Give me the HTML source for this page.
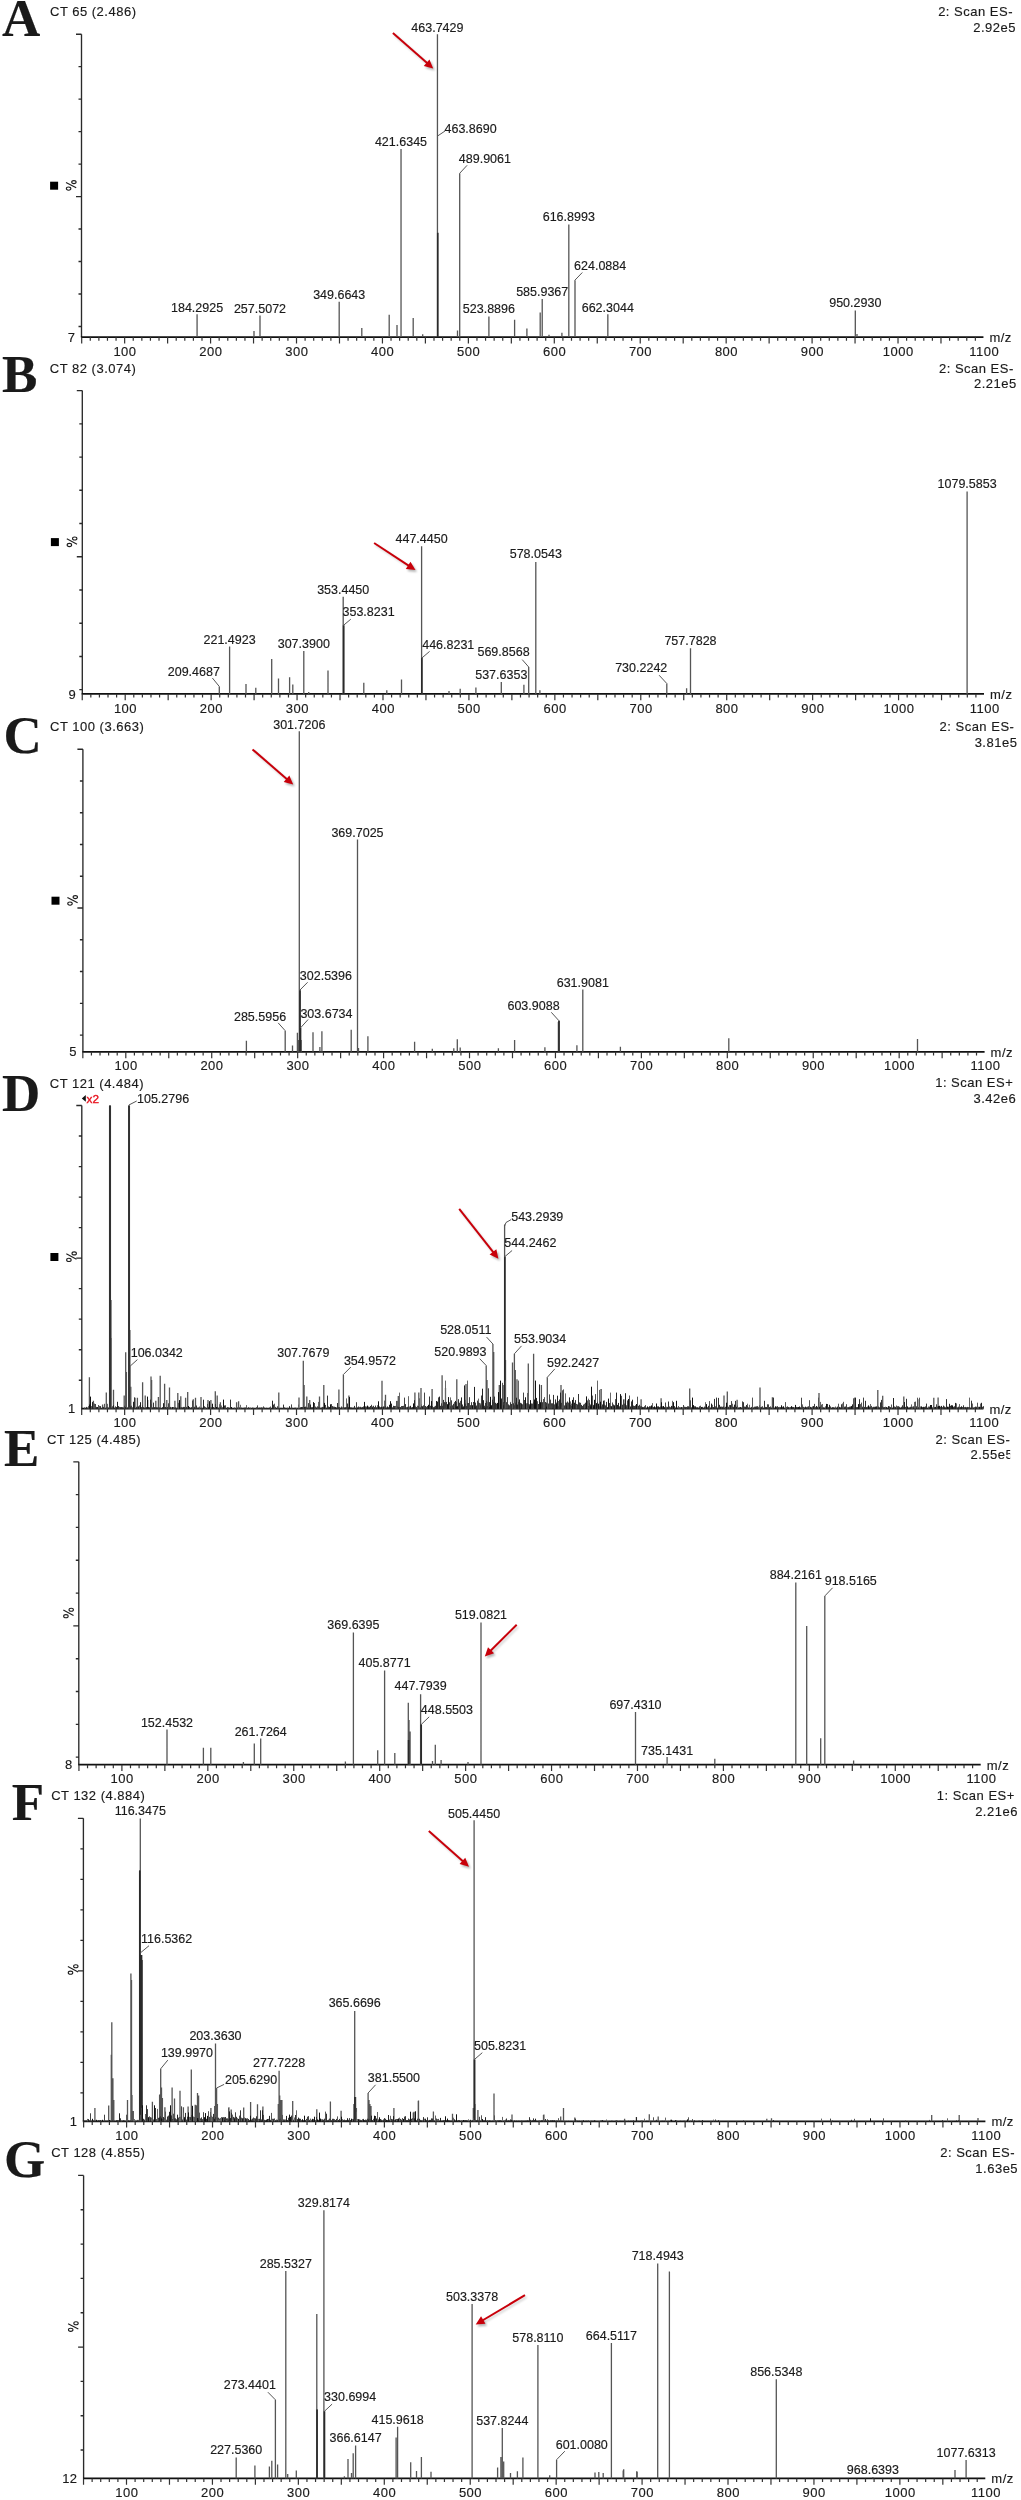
<!DOCTYPE html>
<html><head><meta charset="utf-8"><title>Mass spectra</title>
<style>
html,body{margin:0;padding:0;background:#fff;}
body{width:1021px;height:2500px;overflow:hidden;}
svg{display:block;will-change:transform;}
text{font-family:"Liberation Sans", sans-serif;fill:#1a1a1a;stroke:#1a1a1a;stroke-width:0.15px;}
text.h{font-size:13px;letter-spacing:0.5px;}
text.l{font-size:12.5px;}
text.L{font-family:"Liberation Serif",serif;font-weight:bold;font-size:53px;fill:#1a1a1a;}
</style></head><body>
<svg width="1021" height="2500" viewBox="0 0 1021 2500">
<defs><filter id="sh" x="-50%" y="-50%" width="200%" height="200%"><feGaussianBlur stdDeviation="1.1"/></filter></defs>
<g><text class="L" x="2.0" y="35.8">A</text><text class="h" x="50.0" y="16.2">CT 65 (2.486)</text><text class="h" x="1013.0" y="16.1" text-anchor="end">2: Scan ES-</text><text class="h" x="1016.0" y="31.8" text-anchor="end">2.92e5</text><path d="M81.50,34.20V337.10M76.00,34.20H81.50M78.50,66.67H81.50M78.50,99.15H81.50M78.50,131.62H81.50M78.50,164.09H81.50M76.00,196.57H81.50M78.50,229.04H81.50M78.50,261.51H81.50M78.50,293.98H81.50M78.50,326.46H81.50" stroke="#2a2a2a" stroke-width="1.35" fill="none"/><path d="M80.90,337.10H983.45" stroke="#111" stroke-width="1.7" fill="none"/><path d="M81.69,337.10v6.3M90.28,337.10v3.6M98.87,337.10v3.6M107.46,337.10v3.6M116.06,337.10v3.6M124.65,337.10v6.3M133.24,337.10v3.6M141.84,337.10v3.6M150.43,337.10v3.6M159.02,337.10v3.6M167.62,337.10v6.3M176.21,337.10v3.6M184.80,337.10v3.6M193.39,337.10v3.6M201.99,337.10v3.6M210.58,337.10v6.3M219.17,337.10v3.6M227.77,337.10v3.6M236.36,337.10v3.6M244.95,337.10v3.6M253.54,337.10v6.3M262.14,337.10v3.6M270.73,337.10v3.6M279.32,337.10v3.6M287.92,337.10v3.6M296.51,337.10v6.3M305.10,337.10v3.6M313.70,337.10v3.6M322.29,337.10v3.6M330.88,337.10v3.6M339.48,337.10v6.3M348.07,337.10v3.6M356.66,337.10v3.6M365.25,337.10v3.6M373.85,337.10v3.6M382.44,337.10v6.3M391.03,337.10v3.6M399.63,337.10v3.6M408.22,337.10v3.6M416.81,337.10v3.6M425.40,337.10v6.3M434.00,337.10v3.6M442.59,337.10v3.6M451.18,337.10v3.6M459.78,337.10v3.6M468.37,337.10v6.3M476.96,337.10v3.6M485.56,337.10v3.6M494.15,337.10v3.6M502.74,337.10v3.6M511.34,337.10v6.3M519.93,337.10v3.6M528.52,337.10v3.6M537.11,337.10v3.6M545.71,337.10v3.6M554.30,337.10v6.3M562.89,337.10v3.6M571.49,337.10v3.6M580.08,337.10v3.6M588.67,337.10v3.6M597.26,337.10v6.3M605.86,337.10v3.6M614.45,337.10v3.6M623.04,337.10v3.6M631.64,337.10v3.6M640.23,337.10v6.3M648.82,337.10v3.6M657.42,337.10v3.6M666.01,337.10v3.6M674.60,337.10v3.6M683.19,337.10v6.3M691.79,337.10v3.6M700.38,337.10v3.6M708.97,337.10v3.6M717.57,337.10v3.6M726.16,337.10v6.3M734.75,337.10v3.6M743.35,337.10v3.6M751.94,337.10v3.6M760.53,337.10v3.6M769.12,337.10v6.3M777.72,337.10v3.6M786.31,337.10v3.6M794.90,337.10v3.6M803.50,337.10v3.6M812.09,337.10v6.3M820.68,337.10v3.6M829.28,337.10v3.6M837.87,337.10v3.6M846.46,337.10v3.6M855.05,337.10v6.3M863.65,337.10v3.6M872.24,337.10v3.6M880.83,337.10v3.6M889.43,337.10v3.6M898.02,337.10v6.3M906.61,337.10v3.6M915.21,337.10v3.6M923.80,337.10v3.6M932.39,337.10v3.6M940.98,337.10v6.3M949.58,337.10v3.6M958.17,337.10v3.6M966.76,337.10v3.6M975.36,337.10v3.6" stroke="#333" stroke-width="1.2" fill="none"/><text class="h" x="125.0" y="355.7" text-anchor="middle">100</text><text class="h" x="210.9" y="355.7" text-anchor="middle">200</text><text class="h" x="296.8" y="355.7" text-anchor="middle">300</text><text class="h" x="382.7" y="355.7" text-anchor="middle">400</text><text class="h" x="468.7" y="355.7" text-anchor="middle">500</text><text class="h" x="554.6" y="355.7" text-anchor="middle">600</text><text class="h" x="640.5" y="355.7" text-anchor="middle">700</text><text class="h" x="726.5" y="355.7" text-anchor="middle">800</text><text class="h" x="812.4" y="355.7" text-anchor="middle">900</text><text class="h" x="898.3" y="355.7" text-anchor="middle">1000</text><text class="h" x="984.2" y="355.7" text-anchor="middle">1100</text><text class="h" x="989.4" y="342.1">m/z</text><text class="h" x="75.5" y="341.7" text-anchor="end">7</text><g transform="translate(71.20,185.40)" stroke="#1e1e1e" stroke-width="1.1" fill="none"><ellipse cx="2.7" cy="-3.3" rx="2.2" ry="1.5"/><ellipse cx="-2.6" cy="3.2" rx="2.25" ry="1.6"/><path d="M-5.2,-2.95L5.0,2.45"/></g><rect x="50.1" y="181.7" width="8" height="8" fill="#000"/><path d="M197.08,337.10V314.20M260.00,337.10V315.40M339.19,337.10V301.70M401.03,337.10V149.10M437.45,337.10V34.20M437.60,337.10V232.80M459.70,337.10V173.30M488.90,337.10V316.60M542.22,337.10V298.90M568.82,337.10V224.50M575.00,337.10V280.30M607.84,337.10V314.20M855.31,337.10V310.50M254.00,337.10V331.00M361.80,337.10V328.10M389.20,337.10V314.70M397.00,337.10V324.90M413.20,337.10V318.00M422.70,337.10V334.20M457.50,337.10V330.50M514.60,337.10V319.70M526.90,337.10V328.60M540.20,337.10V312.60M549.00,337.10V334.80M561.90,337.10V332.80M857.00,337.10V334.00" stroke="#555" stroke-width="1.3" fill="none"/><path d="M437.75,337.10V232.80" stroke="#2a2a2a" stroke-width="1.6" fill="none"/><text class="l" x="197.1" y="311.7" text-anchor="middle">184.2925</text><text class="l" x="260.0" y="313.0" text-anchor="middle">257.5072</text><text class="l" x="339.2" y="298.8" text-anchor="middle">349.6643</text><text class="l" x="401.0" y="145.7" text-anchor="middle">421.6345</text><text class="l" x="437.4" y="31.6" text-anchor="middle">463.7429</text><text class="l" x="444.5" y="133.3">463.8690</text><polyline points="437.6,136.0 445.0,131.0" stroke="#555" stroke-width="1" fill="none"/><text class="l" x="458.8" y="163.0">489.9061</text><polyline points="459.7,173.3 467.1,165.3" stroke="#555" stroke-width="1" fill="none"/><text class="l" x="488.9" y="313.2" text-anchor="middle">523.8896</text><text class="l" x="542.2" y="296.0" text-anchor="middle">585.9367</text><text class="l" x="568.8" y="221.2" text-anchor="middle">616.8993</text><text class="l" x="574.1" y="269.9">624.0884</text><polyline points="574.8,280.3 582.3,272.5" stroke="#555" stroke-width="1" fill="none"/><text class="l" x="607.8" y="311.7" text-anchor="middle">662.3044</text><text class="l" x="855.3" y="307.2" text-anchor="middle">950.2930</text><path d="M433.20,68.50L423.76,65.90L429.45,59.45z" fill="#000" opacity="0.3" transform="translate(1.6,2.0)" filter="url(#sh)"/><path d="M392.9,32.9L427.4,63.3" stroke="#000" opacity="0.16" stroke-width="2.2" fill="none" transform="translate(1.5,1.9)" filter="url(#sh)"/><path d="M392.9,32.9L427.4,63.3" stroke="#c8000a" stroke-width="2.0" fill="none"/><path d="M433.20,68.50L423.76,65.90L429.45,59.45z" fill="#c8000a"/></g>
<g><text class="L" x="1.9" y="392.2">B</text><text class="h" x="49.8" y="372.6">CT 82 (3.074)</text><text class="h" x="1013.8" y="372.5" text-anchor="end">2: Scan ES-</text><text class="h" x="1016.8" y="388.2" text-anchor="end">2.21e5</text><path d="M82.30,390.60V693.90M76.80,390.60H82.30M79.30,423.83H82.30M79.30,457.06H82.30M79.30,490.29H82.30M79.30,523.52H82.30M76.80,556.75H82.30M79.30,589.98H82.30M79.30,623.22H82.30M79.30,656.45H82.30M79.30,689.68H82.30" stroke="#2a2a2a" stroke-width="1.35" fill="none"/><path d="M81.70,693.90H984.00" stroke="#111" stroke-width="1.7" fill="none"/><path d="M82.24,693.90v6.3M90.83,693.90v3.6M99.42,693.90v3.6M108.01,693.90v3.6M116.61,693.90v3.6M125.20,693.90v6.3M133.79,693.90v3.6M142.39,693.90v3.6M150.98,693.90v3.6M159.57,693.90v3.6M168.16,693.90v6.3M176.76,693.90v3.6M185.35,693.90v3.6M193.94,693.90v3.6M202.54,693.90v3.6M211.13,693.90v6.3M219.72,693.90v3.6M228.32,693.90v3.6M236.91,693.90v3.6M245.50,693.90v3.6M254.09,693.90v6.3M262.69,693.90v3.6M271.28,693.90v3.6M279.87,693.90v3.6M288.47,693.90v3.6M297.06,693.90v6.3M305.65,693.90v3.6M314.25,693.90v3.6M322.84,693.90v3.6M331.43,693.90v3.6M340.02,693.90v6.3M348.62,693.90v3.6M357.21,693.90v3.6M365.80,693.90v3.6M374.40,693.90v3.6M382.99,693.90v6.3M391.58,693.90v3.6M400.18,693.90v3.6M408.77,693.90v3.6M417.36,693.90v3.6M425.95,693.90v6.3M434.55,693.90v3.6M443.14,693.90v3.6M451.73,693.90v3.6M460.33,693.90v3.6M468.92,693.90v6.3M477.51,693.90v3.6M486.11,693.90v3.6M494.70,693.90v3.6M503.29,693.90v3.6M511.88,693.90v6.3M520.48,693.90v3.6M529.07,693.90v3.6M537.66,693.90v3.6M546.26,693.90v3.6M554.85,693.90v6.3M563.44,693.90v3.6M572.04,693.90v3.6M580.63,693.90v3.6M589.22,693.90v3.6M597.81,693.90v6.3M606.41,693.90v3.6M615.00,693.90v3.6M623.59,693.90v3.6M632.19,693.90v3.6M640.78,693.90v6.3M649.37,693.90v3.6M657.97,693.90v3.6M666.56,693.90v3.6M675.15,693.90v3.6M683.75,693.90v6.3M692.34,693.90v3.6M700.93,693.90v3.6M709.52,693.90v3.6M718.12,693.90v3.6M726.71,693.90v6.3M735.30,693.90v3.6M743.90,693.90v3.6M752.49,693.90v3.6M761.08,693.90v3.6M769.67,693.90v6.3M778.27,693.90v3.6M786.86,693.90v3.6M795.45,693.90v3.6M804.05,693.90v3.6M812.64,693.90v6.3M821.23,693.90v3.6M829.83,693.90v3.6M838.42,693.90v3.6M847.01,693.90v3.6M855.61,693.90v6.3M864.20,693.90v3.6M872.79,693.90v3.6M881.38,693.90v3.6M889.98,693.90v3.6M898.57,693.90v6.3M907.16,693.90v3.6M915.76,693.90v3.6M924.35,693.90v3.6M932.94,693.90v3.6M941.53,693.90v6.3M950.13,693.90v3.6M958.72,693.90v3.6M967.31,693.90v3.6M975.91,693.90v3.6" stroke="#333" stroke-width="1.2" fill="none"/><text class="h" x="125.5" y="712.5" text-anchor="middle">100</text><text class="h" x="211.4" y="712.5" text-anchor="middle">200</text><text class="h" x="297.4" y="712.5" text-anchor="middle">300</text><text class="h" x="383.3" y="712.5" text-anchor="middle">400</text><text class="h" x="469.2" y="712.5" text-anchor="middle">500</text><text class="h" x="555.1" y="712.5" text-anchor="middle">600</text><text class="h" x="641.1" y="712.5" text-anchor="middle">700</text><text class="h" x="727.0" y="712.5" text-anchor="middle">800</text><text class="h" x="812.9" y="712.5" text-anchor="middle">900</text><text class="h" x="898.9" y="712.5" text-anchor="middle">1000</text><text class="h" x="984.8" y="712.5" text-anchor="middle">1100</text><text class="h" x="990.0" y="698.9">m/z</text><text class="h" x="76.3" y="698.5" text-anchor="end">9</text><g transform="translate(72.00,541.80)" stroke="#1e1e1e" stroke-width="1.1" fill="none"><ellipse cx="2.7" cy="-3.3" rx="2.2" ry="1.5"/><ellipse cx="-2.6" cy="3.2" rx="2.25" ry="1.6"/><path d="M-5.2,-2.95L5.0,2.45"/></g><rect x="50.9" y="538.1" width="8" height="8" fill="#000"/><path d="M219.30,693.90V686.50M229.60,693.90V646.60M303.80,693.90V651.00M343.20,693.90V596.70M343.70,693.90V625.30M421.60,693.90V546.30M421.90,693.90V657.90M501.30,693.90V682.00M528.70,693.90V667.00M535.80,693.90V562.00M666.80,693.90V683.50M690.50,693.90V648.20M967.10,693.90V491.50M246.00,693.90V684.00M255.80,693.90V687.70M271.70,693.90V659.10M278.50,693.90V678.40M289.60,693.90V677.20M292.80,693.90V684.60M308.70,693.90V692.10M328.00,693.90V670.60M363.80,693.90V682.80M386.80,693.90V690.20M401.50,693.90V679.40M449.00,693.90V690.90M460.20,693.90V688.70M475.90,693.90V687.60M523.90,693.90V684.80M539.90,693.90V690.20M686.60,693.90V688.20" stroke="#555" stroke-width="1.3" fill="none"/><path d="M343.60,693.90V625.30M421.80,693.90V657.90" stroke="#2a2a2a" stroke-width="1.6" fill="none"/><text class="l" x="219.9" y="675.5" text-anchor="end">209.4687</text><polyline points="219.3,686.5 212.4,678.0" stroke="#555" stroke-width="1" fill="none"/><text class="l" x="229.6" y="643.7" text-anchor="middle">221.4923</text><text class="l" x="303.8" y="648.1" text-anchor="middle">307.3900</text><text class="l" x="343.2" y="593.5" text-anchor="middle">353.4450</text><text class="l" x="342.5" y="616.0">353.8231</text><polyline points="343.5,625.3 350.8,619.2" stroke="#555" stroke-width="1" fill="none"/><text class="l" x="421.6" y="542.6" text-anchor="middle">447.4450</text><text class="l" x="422.2" y="648.9">446.8231</text><polyline points="422.0,657.9 429.6,651.4" stroke="#555" stroke-width="1" fill="none"/><text class="l" x="501.3" y="679.0" text-anchor="middle">537.6353</text><text class="l" x="529.6" y="656.2" text-anchor="end">569.8568</text><polyline points="528.7,667.0 522.2,659.6" stroke="#555" stroke-width="1" fill="none"/><text class="l" x="535.8" y="558.4" text-anchor="middle">578.0543</text><text class="l" x="667.3" y="672.3" text-anchor="end">730.2242</text><polyline points="666.8,683.5 659.1,675.2" stroke="#555" stroke-width="1" fill="none"/><text class="l" x="690.5" y="645.3" text-anchor="middle">757.7828</text><text class="l" x="967.1" y="487.6" text-anchor="middle">1079.5853</text><path d="M415.50,570.10L405.78,568.88L410.49,561.68z" fill="#000" opacity="0.3" transform="translate(1.6,2.0)" filter="url(#sh)"/><path d="M374.1,543.0L409.0,565.8" stroke="#000" opacity="0.16" stroke-width="2.2" fill="none" transform="translate(1.5,1.9)" filter="url(#sh)"/><path d="M374.1,543.0L409.0,565.8" stroke="#c8000a" stroke-width="2.0" fill="none"/><path d="M415.50,570.10L405.78,568.88L410.49,561.68z" fill="#c8000a"/></g>
<g><text class="L" x="3.5" y="753.3">C</text><text class="h" x="50.1" y="731.2">CT 100 (3.663)</text><text class="h" x="1014.4" y="731.1" text-anchor="end">2: Scan ES-</text><text class="h" x="1017.4" y="746.8" text-anchor="end">3.81e5</text><path d="M82.90,749.20V1051.85M77.40,749.20H82.90M79.90,780.96H82.90M79.90,812.73H82.90M79.90,844.49H82.90M79.90,876.25H82.90M77.40,908.02H82.90M79.90,939.78H82.90M79.90,971.54H82.90M79.90,1003.31H82.90M79.90,1035.07H82.90" stroke="#2a2a2a" stroke-width="1.35" fill="none"/><path d="M82.30,1051.85H984.60" stroke="#111" stroke-width="1.7" fill="none"/><path d="M82.84,1051.85v6.3M91.43,1051.85v3.6M100.02,1051.85v3.6M108.61,1051.85v3.6M117.21,1051.85v3.6M125.80,1051.85v6.3M134.39,1051.85v3.6M142.99,1051.85v3.6M151.58,1051.85v3.6M160.17,1051.85v3.6M168.76,1051.85v6.3M177.36,1051.85v3.6M185.95,1051.85v3.6M194.54,1051.85v3.6M203.14,1051.85v3.6M211.73,1051.85v6.3M220.32,1051.85v3.6M228.92,1051.85v3.6M237.51,1051.85v3.6M246.10,1051.85v3.6M254.69,1051.85v6.3M263.29,1051.85v3.6M271.88,1051.85v3.6M280.47,1051.85v3.6M289.07,1051.85v3.6M297.66,1051.85v6.3M306.25,1051.85v3.6M314.85,1051.85v3.6M323.44,1051.85v3.6M332.03,1051.85v3.6M340.62,1051.85v6.3M349.22,1051.85v3.6M357.81,1051.85v3.6M366.40,1051.85v3.6M375.00,1051.85v3.6M383.59,1051.85v6.3M392.18,1051.85v3.6M400.78,1051.85v3.6M409.37,1051.85v3.6M417.96,1051.85v3.6M426.56,1051.85v6.3M435.15,1051.85v3.6M443.74,1051.85v3.6M452.33,1051.85v3.6M460.93,1051.85v3.6M469.52,1051.85v6.3M478.11,1051.85v3.6M486.71,1051.85v3.6M495.30,1051.85v3.6M503.89,1051.85v3.6M512.49,1051.85v6.3M521.08,1051.85v3.6M529.67,1051.85v3.6M538.26,1051.85v3.6M546.86,1051.85v3.6M555.45,1051.85v6.3M564.04,1051.85v3.6M572.64,1051.85v3.6M581.23,1051.85v3.6M589.82,1051.85v3.6M598.41,1051.85v6.3M607.01,1051.85v3.6M615.60,1051.85v3.6M624.19,1051.85v3.6M632.79,1051.85v3.6M641.38,1051.85v6.3M649.97,1051.85v3.6M658.57,1051.85v3.6M667.16,1051.85v3.6M675.75,1051.85v3.6M684.34,1051.85v6.3M692.94,1051.85v3.6M701.53,1051.85v3.6M710.12,1051.85v3.6M718.72,1051.85v3.6M727.31,1051.85v6.3M735.90,1051.85v3.6M744.50,1051.85v3.6M753.09,1051.85v3.6M761.68,1051.85v3.6M770.27,1051.85v6.3M778.87,1051.85v3.6M787.46,1051.85v3.6M796.05,1051.85v3.6M804.65,1051.85v3.6M813.24,1051.85v6.3M821.83,1051.85v3.6M830.43,1051.85v3.6M839.02,1051.85v3.6M847.61,1051.85v3.6M856.20,1051.85v6.3M864.80,1051.85v3.6M873.39,1051.85v3.6M881.98,1051.85v3.6M890.58,1051.85v3.6M899.17,1051.85v6.3M907.76,1051.85v3.6M916.36,1051.85v3.6M924.95,1051.85v3.6M933.54,1051.85v3.6M942.13,1051.85v6.3M950.73,1051.85v3.6M959.32,1051.85v3.6M967.91,1051.85v3.6M976.51,1051.85v3.6" stroke="#333" stroke-width="1.2" fill="none"/><text class="h" x="126.1" y="1070.4" text-anchor="middle">100</text><text class="h" x="212.0" y="1070.4" text-anchor="middle">200</text><text class="h" x="298.0" y="1070.4" text-anchor="middle">300</text><text class="h" x="383.9" y="1070.4" text-anchor="middle">400</text><text class="h" x="469.8" y="1070.4" text-anchor="middle">500</text><text class="h" x="555.7" y="1070.4" text-anchor="middle">600</text><text class="h" x="641.7" y="1070.4" text-anchor="middle">700</text><text class="h" x="727.6" y="1070.4" text-anchor="middle">800</text><text class="h" x="813.5" y="1070.4" text-anchor="middle">900</text><text class="h" x="899.5" y="1070.4" text-anchor="middle">1000</text><text class="h" x="985.4" y="1070.4" text-anchor="middle">1100</text><text class="h" x="990.6" y="1056.8">m/z</text><text class="h" x="76.9" y="1056.4" text-anchor="end">5</text><g transform="translate(72.60,900.40)" stroke="#1e1e1e" stroke-width="1.1" fill="none"><ellipse cx="2.7" cy="-3.3" rx="2.2" ry="1.5"/><ellipse cx="-2.6" cy="3.2" rx="2.25" ry="1.6"/><path d="M-5.2,-2.95L5.0,2.45"/></g><rect x="51.5" y="896.7" width="8" height="8" fill="#000"/><path d="M299.30,1051.85V731.30M357.50,1051.85V839.50M285.20,1051.85V1030.70M300.00,1051.85V990.20M300.60,1051.85V1028.00M559.00,1051.85V1020.80M582.80,1051.85V989.40M246.40,1051.85V1040.70M292.50,1051.85V1045.60M297.40,1051.85V1032.70M298.60,1051.85V1040.00M299.90,1051.85V1036.00M301.20,1051.85V1040.00M313.00,1051.85V1032.30M319.90,1051.85V1047.00M321.90,1051.85V1031.30M351.20,1051.85V1029.70M358.50,1051.85V1048.00M367.90,1051.85V1036.20M414.60,1051.85V1041.70M432.30,1051.85V1048.70M453.80,1051.85V1048.20M457.30,1051.85V1039.30M460.20,1051.85V1047.60M498.40,1051.85V1048.20M514.60,1051.85V1039.90M544.90,1051.85V1047.30M558.40,1051.85V1022.00M576.90,1051.85V1045.20M620.40,1051.85V1046.70M728.80,1051.85V1038.20M917.50,1051.85V1039.10" stroke="#555" stroke-width="1.3" fill="none"/><path d="M300.00,1051.85V990.20M300.40,1051.85V1028.00M559.00,1051.85V1020.80" stroke="#2a2a2a" stroke-width="1.6" fill="none"/><text class="l" x="299.3" y="728.5" text-anchor="middle">301.7206</text><text class="l" x="357.5" y="836.6" text-anchor="middle">369.7025</text><text class="l" x="286.1" y="1020.5" text-anchor="end">285.5956</text><polyline points="285.2,1030.7 278.2,1022.9" stroke="#555" stroke-width="1" fill="none"/><text class="l" x="299.8" y="979.8">302.5396</text><polyline points="299.8,990.2 307.6,982.3" stroke="#555" stroke-width="1" fill="none"/><text class="l" x="300.4" y="1017.6">303.6734</text><polyline points="300.4,1028.0 308.1,1019.5" stroke="#555" stroke-width="1" fill="none"/><text class="l" x="559.6" y="1010.0" text-anchor="end">603.9088</text><polyline points="559.0,1020.8 551.3,1012.3" stroke="#555" stroke-width="1" fill="none"/><text class="l" x="582.8" y="987.0" text-anchor="middle">631.9081</text><path d="M293.20,784.50L283.73,782.01L289.34,775.50z" fill="#000" opacity="0.3" transform="translate(1.6,2.0)" filter="url(#sh)"/><path d="M252.5,749.4L287.3,779.4" stroke="#000" opacity="0.16" stroke-width="2.2" fill="none" transform="translate(1.5,1.9)" filter="url(#sh)"/><path d="M252.5,749.4L287.3,779.4" stroke="#c8000a" stroke-width="2.0" fill="none"/><path d="M293.20,784.50L283.73,782.01L289.34,775.50z" fill="#c8000a"/></g>
<g><text class="L" x="1.9" y="1111.0">D</text><text class="h" x="49.8" y="1087.5">CT 121 (4.484)</text><text class="h" x="1013.3" y="1087.4" text-anchor="end">1: Scan ES+</text><text class="h" x="1016.3" y="1103.1" text-anchor="end">3.42e6</text><path d="M81.80,1105.50V1408.60M76.30,1105.50H81.80M78.80,1136.03H81.80M78.80,1166.55H81.80M78.80,1197.08H81.80M78.80,1227.60H81.80M76.30,1258.13H81.80M78.80,1288.65H81.80M78.80,1319.18H81.80M78.80,1349.70H81.80M78.80,1380.23H81.80" stroke="#2a2a2a" stroke-width="1.35" fill="none"/><path d="M81.20,1408.60H983.45" stroke="#111" stroke-width="1.7" fill="none"/><path d="M81.69,1408.60v6.3M90.28,1408.60v3.6M98.87,1408.60v3.6M107.46,1408.60v3.6M116.06,1408.60v3.6M124.65,1408.60v6.3M133.24,1408.60v3.6M141.84,1408.60v3.6M150.43,1408.60v3.6M159.02,1408.60v3.6M167.62,1408.60v6.3M176.21,1408.60v3.6M184.80,1408.60v3.6M193.39,1408.60v3.6M201.99,1408.60v3.6M210.58,1408.60v6.3M219.17,1408.60v3.6M227.77,1408.60v3.6M236.36,1408.60v3.6M244.95,1408.60v3.6M253.54,1408.60v6.3M262.14,1408.60v3.6M270.73,1408.60v3.6M279.32,1408.60v3.6M287.92,1408.60v3.6M296.51,1408.60v6.3M305.10,1408.60v3.6M313.70,1408.60v3.6M322.29,1408.60v3.6M330.88,1408.60v3.6M339.48,1408.60v6.3M348.07,1408.60v3.6M356.66,1408.60v3.6M365.25,1408.60v3.6M373.85,1408.60v3.6M382.44,1408.60v6.3M391.03,1408.60v3.6M399.63,1408.60v3.6M408.22,1408.60v3.6M416.81,1408.60v3.6M425.40,1408.60v6.3M434.00,1408.60v3.6M442.59,1408.60v3.6M451.18,1408.60v3.6M459.78,1408.60v3.6M468.37,1408.60v6.3M476.96,1408.60v3.6M485.56,1408.60v3.6M494.15,1408.60v3.6M502.74,1408.60v3.6M511.34,1408.60v6.3M519.93,1408.60v3.6M528.52,1408.60v3.6M537.11,1408.60v3.6M545.71,1408.60v3.6M554.30,1408.60v6.3M562.89,1408.60v3.6M571.49,1408.60v3.6M580.08,1408.60v3.6M588.67,1408.60v3.6M597.26,1408.60v6.3M605.86,1408.60v3.6M614.45,1408.60v3.6M623.04,1408.60v3.6M631.64,1408.60v3.6M640.23,1408.60v6.3M648.82,1408.60v3.6M657.42,1408.60v3.6M666.01,1408.60v3.6M674.60,1408.60v3.6M683.19,1408.60v6.3M691.79,1408.60v3.6M700.38,1408.60v3.6M708.97,1408.60v3.6M717.57,1408.60v3.6M726.16,1408.60v6.3M734.75,1408.60v3.6M743.35,1408.60v3.6M751.94,1408.60v3.6M760.53,1408.60v3.6M769.12,1408.60v6.3M777.72,1408.60v3.6M786.31,1408.60v3.6M794.90,1408.60v3.6M803.50,1408.60v3.6M812.09,1408.60v6.3M820.68,1408.60v3.6M829.28,1408.60v3.6M837.87,1408.60v3.6M846.46,1408.60v3.6M855.05,1408.60v6.3M863.65,1408.60v3.6M872.24,1408.60v3.6M880.83,1408.60v3.6M889.43,1408.60v3.6M898.02,1408.60v6.3M906.61,1408.60v3.6M915.21,1408.60v3.6M923.80,1408.60v3.6M932.39,1408.60v3.6M940.98,1408.60v6.3M949.58,1408.60v3.6M958.17,1408.60v3.6M966.76,1408.60v3.6M975.36,1408.60v3.6" stroke="#333" stroke-width="1.2" fill="none"/><text class="h" x="125.0" y="1427.2" text-anchor="middle">100</text><text class="h" x="210.9" y="1427.2" text-anchor="middle">200</text><text class="h" x="296.8" y="1427.2" text-anchor="middle">300</text><text class="h" x="382.7" y="1427.2" text-anchor="middle">400</text><text class="h" x="468.7" y="1427.2" text-anchor="middle">500</text><text class="h" x="554.6" y="1427.2" text-anchor="middle">600</text><text class="h" x="640.5" y="1427.2" text-anchor="middle">700</text><text class="h" x="726.5" y="1427.2" text-anchor="middle">800</text><text class="h" x="812.4" y="1427.2" text-anchor="middle">900</text><text class="h" x="898.3" y="1427.2" text-anchor="middle">1000</text><text class="h" x="984.2" y="1427.2" text-anchor="middle">1100</text><text class="h" x="989.4" y="1413.6">m/z</text><text class="h" x="75.8" y="1413.2" text-anchor="end">1</text><g transform="translate(71.50,1256.70)" stroke="#1e1e1e" stroke-width="1.1" fill="none"><ellipse cx="2.7" cy="-3.3" rx="2.2" ry="1.5"/><ellipse cx="-2.6" cy="3.2" rx="2.25" ry="1.6"/><path d="M-5.2,-2.95L5.0,2.45"/></g><rect x="50.4" y="1253.0" width="8" height="8" fill="#000"/><path d="M129.40,1408.60V1105.40M130.10,1408.60V1366.20M303.30,1408.60V1360.70M343.40,1408.60V1374.50M504.60,1408.60V1224.50M504.90,1408.60V1256.80M492.90,1408.60V1344.00M486.20,1408.60V1365.50M514.40,1408.60V1353.80M547.30,1408.60V1377.30M89.40,1408.60V1377.20M93.40,1408.60V1400.70M102.60,1408.60V1404.40M106.30,1408.60V1392.60M109.60,1408.60V1105.40M110.40,1408.60V1105.40M111.20,1408.60V1338.00M113.50,1408.60V1389.70M124.20,1408.60V1395.60M125.70,1408.60V1352.20M126.40,1408.60V1372.10M128.80,1408.60V1105.40M130.80,1408.60V1386.80M135.00,1408.60V1397.80M137.40,1408.60V1397.80M142.60,1408.60V1382.30M145.20,1408.60V1395.60M147.70,1408.60V1400.00M151.00,1408.60V1376.50M151.60,1408.60V1380.00M155.80,1408.60V1400.70M158.40,1408.60V1397.00M160.20,1408.60V1375.70M164.60,1408.60V1383.80M166.80,1408.60V1400.00M169.50,1408.60V1387.50M174.90,1408.60V1400.70M177.80,1408.60V1393.10M180.80,1408.60V1396.30M185.60,1408.60V1397.80M187.70,1408.60V1391.90M193.30,1408.60V1399.20M195.50,1408.60V1397.80M201.00,1408.60V1397.00M208.00,1408.60V1400.00M210.90,1408.60V1400.00M215.30,1408.60V1391.20M217.20,1408.60V1395.60M220.40,1408.60V1402.20M236.60,1408.60V1402.30M238.60,1408.60V1401.30M278.80,1408.60V1392.50M299.00,1408.60V1397.40M306.80,1408.60V1396.40M309.70,1408.60V1400.00M319.50,1408.60V1396.40M323.80,1408.60V1385.00M338.90,1408.60V1389.50M348.90,1408.60V1395.40M382.00,1408.60V1380.70M385.50,1408.60V1394.80M398.30,1408.60V1396.00M414.90,1408.60V1392.50M418.80,1408.60V1392.50M421.00,1408.60V1388.00M432.10,1408.60V1389.00M442.10,1408.60V1375.30M445.50,1408.60V1388.00M456.80,1408.60V1379.20M466.00,1408.60V1384.10M499.30,1408.60V1385.10M512.50,1408.60V1362.60M517.00,1408.60V1379.20M528.30,1408.60V1363.60M533.60,1408.60V1353.80M541.40,1408.60V1385.10M561.00,1408.60V1385.10M601.20,1408.60V1389.00M601.00,1408.60V1389.00M623.90,1408.60V1399.20M641.10,1408.60V1399.20M661.10,1408.60V1398.20M689.70,1408.60V1388.40M724.00,1408.60V1395.40M727.30,1408.60V1391.50M737.10,1408.60V1399.70M760.00,1408.60V1387.40M772.40,1408.60V1397.20M819.00,1408.60V1392.90M877.80,1408.60V1390.00M882.70,1408.60V1395.80M903.80,1408.60V1396.40M919.10,1408.60V1399.20M933.80,1408.60V1397.80M938.10,1408.60V1397.40M493.70,1408.60V1352.00M515.30,1408.60V1370.00M487.00,1408.60V1380.00M304.10,1408.60V1385.00M505.50,1408.60V1360.00M503.80,1408.60V1385.00M129.90,1408.60V1330.00M111.00,1408.60V1300.00" stroke="#555" stroke-width="1.3" fill="none"/><path d="M504.80,1408.60V1256.80M110.00,1408.60V1105.40M129.00,1408.60V1105.40" stroke="#2a2a2a" stroke-width="1.6" fill="none"/><path d="M84.5,1408.6v-1.2M106.5,1408.6v-1.7M107.5,1408.6v-4.8M132.5,1408.6v-1.1M204.5,1408.6v-2.5M219.5,1408.6v-4.4M221.5,1408.6v-3.1M222.5,1408.6v-1.2M240.5,1408.6v-3.8M246.5,1408.6v-3.5M256.5,1408.6v-1.4M287.5,1408.6v-0.9M298.5,1408.6v-4.0M318.5,1408.6v-6.7M346.5,1408.6v-10.2M377.5,1408.6v-3.4M384.5,1408.6v-8.0M397.5,1408.6v-7.7M399.5,1408.6v-16.0M408.5,1408.6v-12.4M418.5,1408.6v-1.3M419.5,1408.6v-10.3M421.5,1408.6v-4.2M444.5,1408.6v-6.5M445.5,1408.6v-28.0M450.5,1408.6v-11.2M459.5,1408.6v-0.7M465.5,1408.6v-8.8M467.5,1408.6v-28.0M471.5,1408.6v-1.7M478.5,1408.6v-10.0M480.5,1408.6v-5.2M487.5,1408.6v-6.7M504.5,1408.6v-2.1M509.5,1408.6v-2.1M510.5,1408.6v-6.7M514.5,1408.6v-5.6M515.5,1408.6v-3.5M518.5,1408.6v-28.0M527.5,1408.6v-15.6M528.5,1408.6v-12.5M531.5,1408.6v-4.7M533.5,1408.6v-6.4M548.5,1408.6v-1.9M558.5,1408.6v-7.6M564.5,1408.6v-2.4M565.5,1408.6v-15.2M570.5,1408.6v-7.2M571.5,1408.6v-5.0M588.5,1408.6v-9.9M589.5,1408.6v-8.6M597.5,1408.6v-28.0M599.5,1408.6v-18.7M604.5,1408.6v-8.2M605.5,1408.6v-1.1M610.5,1408.6v-16.0M626.5,1408.6v-3.4M652.5,1408.6v-5.5M666.5,1408.6v-1.9M672.5,1408.6v-7.8M684.5,1408.6v-1.1M686.5,1408.6v-0.8M705.5,1408.6v-6.4M712.5,1408.6v-3.8M725.5,1408.6v-1.6M732.5,1408.6v-4.9M744.5,1408.6v-1.4M747.5,1408.6v-4.9M749.5,1408.6v-3.8M802.5,1408.6v-4.2M803.5,1408.6v-1.8M820.5,1408.6v-6.7M822.5,1408.6v-4.6M830.5,1408.6v-2.1M842.5,1408.6v-5.2M854.5,1408.6v-11.0M870.5,1408.6v-4.6M877.5,1408.6v-3.9M882.5,1408.6v-3.3M905.5,1408.6v-0.9M911.5,1408.6v-4.2M914.5,1408.6v-6.7M937.5,1408.6v-1.5M940.5,1408.6v-1.2M956.5,1408.6v-5.2M959.5,1408.6v-4.5M962.5,1408.6v-1.3M964.5,1408.6v-1.1M969.5,1408.6v-11.0M972.5,1408.6v-5.1M980.5,1408.6v-5.0M982.5,1408.6v-0.7" stroke="#666" stroke-width="1" fill="none"/><path d="M84.5,1408.6v-0.7M85.5,1408.6v-0.7M86.5,1408.6v-1.7M87.5,1408.6v-0.7M88.5,1408.6v-0.7M89.5,1408.6v-1.3M90.5,1408.6v-1.3M91.5,1408.6v-0.7M92.5,1408.6v-0.7M93.5,1408.6v-0.8M94.5,1408.6v-0.7M95.5,1408.6v-1.5M96.5,1408.6v-1.7M97.5,1408.6v-1.4M98.5,1408.6v-1.2M99.5,1408.6v-1.8M100.5,1408.6v-0.8M101.5,1408.6v-0.6M102.5,1408.6v-1.5M103.5,1408.6v-1.7M104.5,1408.6v-1.2M105.5,1408.6v-0.7M106.5,1408.6v-1.4M107.5,1408.6v-1.3M108.5,1408.6v-1.1M109.5,1408.6v-1.7M110.5,1408.6v-0.8M111.5,1408.6v-0.8M112.5,1408.6v-0.7M113.5,1408.6v-1.6M114.5,1408.6v-0.9M115.5,1408.6v-1.7M116.5,1408.6v-1.4M117.5,1408.6v-0.9M118.5,1408.6v-1.3M119.5,1408.6v-1.7M120.5,1408.6v-1.5M121.5,1408.6v-1.6M122.5,1408.6v-1.4M123.5,1408.6v-1.1M124.5,1408.6v-0.7M125.5,1408.6v-0.7M126.5,1408.6v-0.7M127.5,1408.6v-1.2M128.5,1408.6v-1.3M129.5,1408.6v-0.8M130.5,1408.6v-1.2M131.5,1408.6v-1.2M132.5,1408.6v-1.0M133.5,1408.6v-1.2M134.5,1408.6v-0.8M135.5,1408.6v-0.6M136.5,1408.6v-1.8M137.5,1408.6v-1.4M138.5,1408.6v-1.0M139.5,1408.6v-1.0M140.5,1408.6v-1.6M141.5,1408.6v-1.5M142.5,1408.6v-1.5M143.5,1408.6v-1.5M144.5,1408.6v-0.8M145.5,1408.6v-1.0M146.5,1408.6v-1.5M147.5,1408.6v-0.9M148.5,1408.6v-1.2M149.5,1408.6v-1.3M150.5,1408.6v-1.6M151.5,1408.6v-1.5M152.5,1408.6v-1.2M153.5,1408.6v-0.7M154.5,1408.6v-1.5M155.5,1408.6v-1.5M156.5,1408.6v-0.6M157.5,1408.6v-1.2M158.5,1408.6v-1.3M159.5,1408.6v-1.2M160.5,1408.6v-0.8M161.5,1408.6v-0.6M162.5,1408.6v-1.5M163.5,1408.6v-1.1M164.5,1408.6v-1.6M165.5,1408.6v-1.2M166.5,1408.6v-1.0M167.5,1408.6v-1.6M168.5,1408.6v-1.4M169.5,1408.6v-1.2M170.5,1408.6v-1.7M171.5,1408.6v-0.6M172.5,1408.6v-1.5M173.5,1408.6v-1.5M174.5,1408.6v-1.0M175.5,1408.6v-1.3M176.5,1408.6v-0.7M177.5,1408.6v-0.9M178.5,1408.6v-1.1M179.5,1408.6v-1.1M180.5,1408.6v-1.2M181.5,1408.6v-1.4M182.5,1408.6v-1.2M183.5,1408.6v-1.7M184.5,1408.6v-1.7M185.5,1408.6v-0.9M186.5,1408.6v-1.7M187.5,1408.6v-0.8M188.5,1408.6v-1.4M189.5,1408.6v-1.5M190.5,1408.6v-0.8M191.5,1408.6v-1.4M192.5,1408.6v-0.9M193.5,1408.6v-1.1M194.5,1408.6v-1.8M195.5,1408.6v-0.8M196.5,1408.6v-1.1M197.5,1408.6v-0.6M198.5,1408.6v-1.1M199.5,1408.6v-1.0M200.5,1408.6v-0.7M201.5,1408.6v-0.9M202.5,1408.6v-0.7M203.5,1408.6v-0.9M204.5,1408.6v-1.6M205.5,1408.6v-1.3M206.5,1408.6v-0.7M207.5,1408.6v-1.7M208.5,1408.6v-1.6M209.5,1408.6v-0.9M210.5,1408.6v-1.1M211.5,1408.6v-1.3M212.5,1408.6v-1.8M213.5,1408.6v-1.4M214.5,1408.6v-0.8M215.5,1408.6v-1.0M216.5,1408.6v-0.6M217.5,1408.6v-1.8M218.5,1408.6v-0.9M219.5,1408.6v-1.1M220.5,1408.6v-1.6M221.5,1408.6v-0.9M222.5,1408.6v-1.0M223.5,1408.6v-1.1M224.5,1408.6v-0.7M225.5,1408.6v-1.1M226.5,1408.6v-0.6M227.5,1408.6v-0.5M228.5,1408.6v-1.2M229.5,1408.6v-0.8M230.5,1408.6v-0.6M231.5,1408.6v-0.8M232.5,1408.6v-0.6M233.5,1408.6v-0.4M234.5,1408.6v-0.9M235.5,1408.6v-0.6M236.5,1408.6v-0.5M237.5,1408.6v-1.1M238.5,1408.6v-0.7M239.5,1408.6v-1.2M240.5,1408.6v-0.5M241.5,1408.6v-1.0M242.5,1408.6v-0.7M243.5,1408.6v-0.8M244.5,1408.6v-1.0M245.5,1408.6v-1.1M246.5,1408.6v-0.9M247.5,1408.6v-0.6M248.5,1408.6v-1.2M249.5,1408.6v-0.8M250.5,1408.6v-0.9M251.5,1408.6v-0.4M252.5,1408.6v-1.0M253.5,1408.6v-0.8M254.5,1408.6v-0.5M255.5,1408.6v-0.6M256.5,1408.6v-1.0M257.5,1408.6v-0.8M258.5,1408.6v-0.8M259.5,1408.6v-1.0M260.5,1408.6v-0.9M261.5,1408.6v-0.9M262.5,1408.6v-0.9M263.5,1408.6v-0.6M264.5,1408.6v-1.0M265.5,1408.6v-0.6M266.5,1408.6v-0.8M267.5,1408.6v-0.5M268.5,1408.6v-0.6M269.5,1408.6v-1.1M270.5,1408.6v-1.2M271.5,1408.6v-0.6M272.5,1408.6v-0.5M273.5,1408.6v-1.2M274.5,1408.6v-0.6M275.5,1408.6v-1.1M276.5,1408.6v-0.4M277.5,1408.6v-0.7M278.5,1408.6v-0.7M279.5,1408.6v-0.5M280.5,1408.6v-0.7M281.5,1408.6v-0.7M282.5,1408.6v-0.6M283.5,1408.6v-0.7M284.5,1408.6v-1.2M285.5,1408.6v-0.7M286.5,1408.6v-0.6M287.5,1408.6v-0.6M288.5,1408.6v-0.6M289.5,1408.6v-1.0M290.5,1408.6v-0.7M291.5,1408.6v-1.1M292.5,1408.6v-0.8M293.5,1408.6v-0.4M294.5,1408.6v-0.8M295.5,1408.6v-0.9M296.5,1408.6v-0.5M297.5,1408.6v-0.7M298.5,1408.6v-0.6M299.5,1408.6v-0.6M300.5,1408.6v-1.3M301.5,1408.6v-1.5M302.5,1408.6v-1.6M303.5,1408.6v-1.4M304.5,1408.6v-1.3M305.5,1408.6v-2.0M306.5,1408.6v-1.3M307.5,1408.6v-1.1M308.5,1408.6v-1.2M309.5,1408.6v-0.9M310.5,1408.6v-0.9M311.5,1408.6v-1.3M312.5,1408.6v-1.4M313.5,1408.6v-0.9M314.5,1408.6v-2.2M315.5,1408.6v-2.0M316.5,1408.6v-1.1M317.5,1408.6v-2.2M318.5,1408.6v-1.7M319.5,1408.6v-1.4M320.5,1408.6v-0.8M321.5,1408.6v-1.1M322.5,1408.6v-1.7M323.5,1408.6v-1.5M324.5,1408.6v-0.9M325.5,1408.6v-1.1M326.5,1408.6v-0.8M327.5,1408.6v-2.2M328.5,1408.6v-2.1M329.5,1408.6v-0.8M330.5,1408.6v-0.8M331.5,1408.6v-0.9M332.5,1408.6v-1.1M333.5,1408.6v-1.3M334.5,1408.6v-1.9M335.5,1408.6v-1.2M336.5,1408.6v-1.1M337.5,1408.6v-0.9M338.5,1408.6v-1.7M339.5,1408.6v-1.5M340.5,1408.6v-0.8M341.5,1408.6v-2.1M342.5,1408.6v-1.0M343.5,1408.6v-1.4M344.5,1408.6v-1.2M345.5,1408.6v-1.2M346.5,1408.6v-1.5M347.5,1408.6v-2.2M348.5,1408.6v-1.2M349.5,1408.6v-1.6M350.5,1408.6v-1.3M351.5,1408.6v-1.2M352.5,1408.6v-0.9M353.5,1408.6v-1.0M354.5,1408.6v-1.3M355.5,1408.6v-0.8M356.5,1408.6v-0.8M357.5,1408.6v-1.1M358.5,1408.6v-2.1M359.5,1408.6v-0.8M360.5,1408.6v-1.8M361.5,1408.6v-1.2M362.5,1408.6v-1.6M363.5,1408.6v-2.2M364.5,1408.6v-1.5M365.5,1408.6v-2.2M366.5,1408.6v-2.0M367.5,1408.6v-2.0M368.5,1408.6v-2.0M369.5,1408.6v-1.7M370.5,1408.6v-2.6M371.5,1408.6v-2.5M372.5,1408.6v-2.0M373.5,1408.6v-2.8M374.5,1408.6v-1.5M375.5,1408.6v-3.0M376.5,1408.6v-1.3M377.5,1408.6v-1.5M378.5,1408.6v-2.6M379.5,1408.6v-1.7M380.5,1408.6v-1.4M381.5,1408.6v-1.6M382.5,1408.6v-1.4M383.5,1408.6v-2.0M384.5,1408.6v-1.9M385.5,1408.6v-2.7M386.5,1408.6v-1.1M387.5,1408.6v-2.2M388.5,1408.6v-1.4M389.5,1408.6v-1.9M390.5,1408.6v-1.2M391.5,1408.6v-1.1M392.5,1408.6v-1.1M393.5,1408.6v-2.8M394.5,1408.6v-2.6M395.5,1408.6v-1.6M396.5,1408.6v-2.0M397.5,1408.6v-2.1M398.5,1408.6v-1.8M399.5,1408.6v-1.6M400.5,1408.6v-1.6M401.5,1408.6v-1.0M402.5,1408.6v-2.6M403.5,1408.6v-1.4M404.5,1408.6v-1.2M405.5,1408.6v-1.9M406.5,1408.6v-1.3M407.5,1408.6v-1.8M408.5,1408.6v-2.0M409.5,1408.6v-1.3M410.5,1408.6v-1.6M411.5,1408.6v-1.1M412.5,1408.6v-1.6M413.5,1408.6v-2.8M414.5,1408.6v-2.3M415.5,1408.6v-2.2M416.5,1408.6v-1.4M417.5,1408.6v-1.3M418.5,1408.6v-2.6M419.5,1408.6v-1.1M420.5,1408.6v-1.2M421.5,1408.6v-2.6M422.5,1408.6v-1.9M423.5,1408.6v-1.4M424.5,1408.6v-1.5M425.5,1408.6v-2.6M426.5,1408.6v-1.8M427.5,1408.6v-1.2M428.5,1408.6v-1.1M429.5,1408.6v-2.6M430.5,1408.6v-2.8M431.5,1408.6v-2.7M432.5,1408.6v-2.5M433.5,1408.6v-1.4M434.5,1408.6v-2.0M435.5,1408.6v-2.8M436.5,1408.6v-1.1M437.5,1408.6v-1.6M438.5,1408.6v-1.3M439.5,1408.6v-2.2M440.5,1408.6v-2.4M441.5,1408.6v-5.3M442.5,1408.6v-2.8M443.5,1408.6v-6.6M444.5,1408.6v-6.2M445.5,1408.6v-6.1M446.5,1408.6v-6.7M447.5,1408.6v-4.2M448.5,1408.6v-3.6M449.5,1408.6v-6.4M450.5,1408.6v-2.4M451.5,1408.6v-4.1M452.5,1408.6v-3.3M453.5,1408.6v-4.8M454.5,1408.6v-3.3M455.5,1408.6v-3.9M456.5,1408.6v-6.5M457.5,1408.6v-2.5M458.5,1408.6v-4.1M459.5,1408.6v-5.9M460.5,1408.6v-4.2M461.5,1408.6v-3.0M462.5,1408.6v-4.1M463.5,1408.6v-2.3M464.5,1408.6v-4.1M465.5,1408.6v-5.1M466.5,1408.6v-2.5M467.5,1408.6v-5.8M468.5,1408.6v-5.6M469.5,1408.6v-3.0M470.5,1408.6v-3.4M471.5,1408.6v-6.4M472.5,1408.6v-3.4M473.5,1408.6v-6.6M474.5,1408.6v-2.6M475.5,1408.6v-6.0M476.5,1408.6v-3.1M477.5,1408.6v-6.3M478.5,1408.6v-6.0M479.5,1408.6v-5.4M480.5,1408.6v-3.3M481.5,1408.6v-5.1M482.5,1408.6v-2.4M483.5,1408.6v-3.8M484.5,1408.6v-2.9M485.5,1408.6v-5.6M486.5,1408.6v-3.1M487.5,1408.6v-2.5M488.5,1408.6v-2.7M489.5,1408.6v-6.5M490.5,1408.6v-6.0M491.5,1408.6v-2.8M492.5,1408.6v-3.7M493.5,1408.6v-6.4M494.5,1408.6v-5.7M495.5,1408.6v-5.0M496.5,1408.6v-4.6M497.5,1408.6v-4.7M498.5,1408.6v-4.8M499.5,1408.6v-3.2M500.5,1408.6v-3.8M501.5,1408.6v-6.6M502.5,1408.6v-3.4M503.5,1408.6v-6.5M504.5,1408.6v-5.7M505.5,1408.6v-5.8M506.5,1408.6v-6.4M507.5,1408.6v-6.2M508.5,1408.6v-4.2M509.5,1408.6v-3.3M510.5,1408.6v-5.6M511.5,1408.6v-4.6M512.5,1408.6v-5.6M513.5,1408.6v-4.9M514.5,1408.6v-3.3M515.5,1408.6v-6.0M516.5,1408.6v-5.5M517.5,1408.6v-3.7M518.5,1408.6v-6.7M519.5,1408.6v-4.0M520.5,1408.6v-5.8M521.5,1408.6v-2.7M522.5,1408.6v-4.3M523.5,1408.6v-5.4M524.5,1408.6v-2.3M525.5,1408.6v-5.6M526.5,1408.6v-4.9M527.5,1408.6v-5.5M528.5,1408.6v-4.9M529.5,1408.6v-4.3M530.5,1408.6v-6.3M531.5,1408.6v-5.1M532.5,1408.6v-2.3M533.5,1408.6v-6.4M534.5,1408.6v-4.0M535.5,1408.6v-3.4M536.5,1408.6v-4.6M537.5,1408.6v-3.2M538.5,1408.6v-4.6M539.5,1408.6v-6.7M540.5,1408.6v-5.5M541.5,1408.6v-3.5M542.5,1408.6v-6.4M543.5,1408.6v-3.4M544.5,1408.6v-6.6M545.5,1408.6v-6.6M546.5,1408.6v-5.9M547.5,1408.6v-5.5M548.5,1408.6v-5.1M549.5,1408.6v-6.7M550.5,1408.6v-3.8M551.5,1408.6v-5.3M552.5,1408.6v-5.3M553.5,1408.6v-3.9M554.5,1408.6v-4.2M555.5,1408.6v-2.9M556.5,1408.6v-6.0M557.5,1408.6v-4.6M558.5,1408.6v-2.3M559.5,1408.6v-5.0M560.5,1408.6v-5.7M561.5,1408.6v-5.8M562.5,1408.6v-6.6M563.5,1408.6v-5.8M564.5,1408.6v-3.2M565.5,1408.6v-6.2M566.5,1408.6v-6.0M567.5,1408.6v-4.4M568.5,1408.6v-3.0M569.5,1408.6v-6.0M570.5,1408.6v-3.6M571.5,1408.6v-2.6M572.5,1408.6v-2.3M573.5,1408.6v-5.9M574.5,1408.6v-2.4M575.5,1408.6v-2.7M576.5,1408.6v-4.7M577.5,1408.6v-4.2M578.5,1408.6v-3.8M579.5,1408.6v-6.2M580.5,1408.6v-5.8M581.5,1408.6v-2.8M582.5,1408.6v-2.6M583.5,1408.6v-4.0M584.5,1408.6v-2.5M585.5,1408.6v-5.9M586.5,1408.6v-5.8M587.5,1408.6v-2.9M588.5,1408.6v-2.6M589.5,1408.6v-5.7M590.5,1408.6v-4.1M591.5,1408.6v-3.9M592.5,1408.6v-5.4M593.5,1408.6v-3.7M594.5,1408.6v-4.5M595.5,1408.6v-4.8M596.5,1408.6v-5.3M597.5,1408.6v-6.7M598.5,1408.6v-2.6M599.5,1408.6v-2.3M600.5,1408.6v-4.5M601.5,1408.6v-2.2M602.5,1408.6v-3.7M603.5,1408.6v-4.3M604.5,1408.6v-4.1M605.5,1408.6v-3.2M606.5,1408.6v-4.2M607.5,1408.6v-1.5M608.5,1408.6v-2.7M609.5,1408.6v-3.3M610.5,1408.6v-2.8M611.5,1408.6v-2.6M612.5,1408.6v-2.9M613.5,1408.6v-3.9M614.5,1408.6v-3.4M615.5,1408.6v-2.5M616.5,1408.6v-3.3M617.5,1408.6v-2.6M618.5,1408.6v-3.9M619.5,1408.6v-2.3M620.5,1408.6v-2.4M621.5,1408.6v-1.9M622.5,1408.6v-3.9M623.5,1408.6v-2.5M624.5,1408.6v-2.1M625.5,1408.6v-2.4M626.5,1408.6v-2.1M627.5,1408.6v-2.9M628.5,1408.6v-2.2M629.5,1408.6v-2.5M630.5,1408.6v-2.1M631.5,1408.6v-3.2M632.5,1408.6v-2.2M633.5,1408.6v-3.0M634.5,1408.6v-2.6M635.5,1408.6v-3.3M636.5,1408.6v-1.8M637.5,1408.6v-3.0M638.5,1408.6v-2.8M639.5,1408.6v-3.8M640.5,1408.6v-2.3M641.5,1408.6v-2.4M642.5,1408.6v-1.7M643.5,1408.6v-1.5M644.5,1408.6v-2.3M645.5,1408.6v-2.3M646.5,1408.6v-0.9M647.5,1408.6v-2.3M648.5,1408.6v-1.4M649.5,1408.6v-2.4M650.5,1408.6v-2.3M651.5,1408.6v-2.1M652.5,1408.6v-2.0M653.5,1408.6v-1.6M654.5,1408.6v-2.3M655.5,1408.6v-1.3M656.5,1408.6v-1.6M657.5,1408.6v-1.6M658.5,1408.6v-2.3M659.5,1408.6v-1.5M660.5,1408.6v-2.1M661.5,1408.6v-2.3M662.5,1408.6v-2.2M663.5,1408.6v-2.3M664.5,1408.6v-1.5M665.5,1408.6v-1.0M666.5,1408.6v-0.9M667.5,1408.6v-1.7M668.5,1408.6v-1.5M669.5,1408.6v-2.1M670.5,1408.6v-1.0M671.5,1408.6v-2.4M672.5,1408.6v-2.3M673.5,1408.6v-1.2M674.5,1408.6v-2.4M675.5,1408.6v-1.0M676.5,1408.6v-2.1M677.5,1408.6v-1.0M678.5,1408.6v-1.3M679.5,1408.6v-1.3M680.5,1408.6v-1.1M681.5,1408.6v-1.6M682.5,1408.6v-0.9M683.5,1408.6v-2.0M684.5,1408.6v-1.9M685.5,1408.6v-1.7M686.5,1408.6v-1.6M687.5,1408.6v-2.3M688.5,1408.6v-2.1M689.5,1408.6v-1.6M690.5,1408.6v-1.0M691.5,1408.6v-1.2M692.5,1408.6v-1.1M693.5,1408.6v-1.4M694.5,1408.6v-2.3M695.5,1408.6v-2.1M696.5,1408.6v-1.3M697.5,1408.6v-1.4M698.5,1408.6v-0.9M699.5,1408.6v-2.3M700.5,1408.6v-2.1M701.5,1408.6v-1.2M702.5,1408.6v-1.7M703.5,1408.6v-0.8M704.5,1408.6v-2.0M705.5,1408.6v-1.7M706.5,1408.6v-1.4M707.5,1408.6v-1.0M708.5,1408.6v-1.0M709.5,1408.6v-1.7M710.5,1408.6v-1.0M711.5,1408.6v-2.3M712.5,1408.6v-1.5M713.5,1408.6v-1.6M714.5,1408.6v-1.3M715.5,1408.6v-2.1M716.5,1408.6v-2.1M717.5,1408.6v-0.9M718.5,1408.6v-1.2M719.5,1408.6v-1.0M720.5,1408.6v-1.6M721.5,1408.6v-2.0M722.5,1408.6v-1.8M723.5,1408.6v-2.2M724.5,1408.6v-0.9M725.5,1408.6v-1.8M726.5,1408.6v-1.8M727.5,1408.6v-1.2M728.5,1408.6v-1.8M729.5,1408.6v-2.2M730.5,1408.6v-1.5M731.5,1408.6v-1.7M732.5,1408.6v-1.7M733.5,1408.6v-1.8M734.5,1408.6v-1.7M735.5,1408.6v-1.8M736.5,1408.6v-1.3M737.5,1408.6v-1.4M738.5,1408.6v-1.1M739.5,1408.6v-1.3M740.5,1408.6v-1.3M741.5,1408.6v-1.1M742.5,1408.6v-1.9M743.5,1408.6v-2.0M744.5,1408.6v-2.0M745.5,1408.6v-1.0M746.5,1408.6v-2.1M747.5,1408.6v-2.3M748.5,1408.6v-1.2M749.5,1408.6v-1.0M750.5,1408.6v-0.8M751.5,1408.6v-1.7M752.5,1408.6v-1.0M753.5,1408.6v-1.2M754.5,1408.6v-1.9M755.5,1408.6v-1.4M756.5,1408.6v-0.8M757.5,1408.6v-2.4M758.5,1408.6v-1.3M759.5,1408.6v-1.2M760.5,1408.6v-1.3M761.5,1408.6v-1.8M762.5,1408.6v-2.2M763.5,1408.6v-0.8M764.5,1408.6v-2.3M765.5,1408.6v-1.7M766.5,1408.6v-1.6M767.5,1408.6v-1.5M768.5,1408.6v-2.3M769.5,1408.6v-1.6M770.5,1408.6v-1.8M771.5,1408.6v-1.0M772.5,1408.6v-1.5M773.5,1408.6v-1.9M774.5,1408.6v-0.9M775.5,1408.6v-2.1M776.5,1408.6v-1.9M777.5,1408.6v-2.4M778.5,1408.6v-1.5M779.5,1408.6v-1.1M780.5,1408.6v-1.5M781.5,1408.6v-1.4M782.5,1408.6v-1.8M783.5,1408.6v-1.3M784.5,1408.6v-0.8M785.5,1408.6v-0.8M786.5,1408.6v-1.7M787.5,1408.6v-2.2M788.5,1408.6v-1.5M789.5,1408.6v-1.0M790.5,1408.6v-1.6M791.5,1408.6v-1.8M792.5,1408.6v-1.7M793.5,1408.6v-1.1M794.5,1408.6v-0.9M795.5,1408.6v-0.9M796.5,1408.6v-1.7M797.5,1408.6v-1.5M798.5,1408.6v-1.1M799.5,1408.6v-2.2M800.5,1408.6v-1.3M801.5,1408.6v-2.4M802.5,1408.6v-1.9M803.5,1408.6v-1.6M804.5,1408.6v-1.2M805.5,1408.6v-0.8M806.5,1408.6v-1.4M807.5,1408.6v-1.3M808.5,1408.6v-2.3M809.5,1408.6v-1.2M810.5,1408.6v-1.5M811.5,1408.6v-1.2M812.5,1408.6v-2.1M813.5,1408.6v-1.1M814.5,1408.6v-1.8M815.5,1408.6v-1.6M816.5,1408.6v-2.3M817.5,1408.6v-1.8M818.5,1408.6v-1.2M819.5,1408.6v-1.9M820.5,1408.6v-2.0M821.5,1408.6v-1.0M822.5,1408.6v-1.1M823.5,1408.6v-1.3M824.5,1408.6v-1.0M825.5,1408.6v-2.0M826.5,1408.6v-1.2M827.5,1408.6v-1.4M828.5,1408.6v-1.5M829.5,1408.6v-2.3M830.5,1408.6v-1.9M831.5,1408.6v-0.8M832.5,1408.6v-1.5M833.5,1408.6v-1.4M834.5,1408.6v-1.0M835.5,1408.6v-2.0M836.5,1408.6v-0.9M837.5,1408.6v-2.0M838.5,1408.6v-1.3M839.5,1408.6v-1.7M840.5,1408.6v-1.2M841.5,1408.6v-2.3M842.5,1408.6v-1.3M843.5,1408.6v-1.9M844.5,1408.6v-1.9M845.5,1408.6v-2.0M846.5,1408.6v-2.4M847.5,1408.6v-0.9M848.5,1408.6v-1.5M849.5,1408.6v-1.9M850.5,1408.6v-2.1M851.5,1408.6v-1.9M852.5,1408.6v-1.6M853.5,1408.6v-1.2M854.5,1408.6v-1.2M855.5,1408.6v-1.4M856.5,1408.6v-1.0M857.5,1408.6v-1.6M858.5,1408.6v-1.6M859.5,1408.6v-1.9M860.5,1408.6v-1.7M861.5,1408.6v-1.5M862.5,1408.6v-1.9M863.5,1408.6v-2.1M864.5,1408.6v-1.6M865.5,1408.6v-1.1M866.5,1408.6v-1.5M867.5,1408.6v-1.7M868.5,1408.6v-0.8M869.5,1408.6v-2.0M870.5,1408.6v-1.7M871.5,1408.6v-1.6M872.5,1408.6v-1.3M873.5,1408.6v-1.8M874.5,1408.6v-1.8M875.5,1408.6v-2.0M876.5,1408.6v-1.3M877.5,1408.6v-1.1M878.5,1408.6v-2.1M879.5,1408.6v-1.3M880.5,1408.6v-1.2M881.5,1408.6v-1.2M882.5,1408.6v-2.3M883.5,1408.6v-1.4M884.5,1408.6v-1.6M885.5,1408.6v-1.8M886.5,1408.6v-1.5M887.5,1408.6v-0.9M888.5,1408.6v-1.1M889.5,1408.6v-2.2M890.5,1408.6v-1.5M891.5,1408.6v-1.9M892.5,1408.6v-0.9M893.5,1408.6v-2.2M894.5,1408.6v-2.1M895.5,1408.6v-1.7M896.5,1408.6v-1.5M897.5,1408.6v-2.3M898.5,1408.6v-2.4M899.5,1408.6v-1.8M900.5,1408.6v-0.9M901.5,1408.6v-1.8M902.5,1408.6v-1.6M903.5,1408.6v-1.6M904.5,1408.6v-1.9M905.5,1408.6v-1.7M906.5,1408.6v-1.6M907.5,1408.6v-1.2M908.5,1408.6v-1.1M909.5,1408.6v-1.2M910.5,1408.6v-1.8M911.5,1408.6v-1.6M912.5,1408.6v-1.9M913.5,1408.6v-2.3M914.5,1408.6v-0.9M915.5,1408.6v-1.6M916.5,1408.6v-2.3M917.5,1408.6v-1.0M918.5,1408.6v-1.4M919.5,1408.6v-1.6M920.5,1408.6v-0.9M921.5,1408.6v-1.9M922.5,1408.6v-1.5M923.5,1408.6v-1.8M924.5,1408.6v-1.7M925.5,1408.6v-2.2M926.5,1408.6v-2.1M927.5,1408.6v-0.8M928.5,1408.6v-2.0M929.5,1408.6v-2.0M930.5,1408.6v-1.4M931.5,1408.6v-2.3M932.5,1408.6v-1.2M933.5,1408.6v-1.5M934.5,1408.6v-1.6M935.5,1408.6v-1.7M936.5,1408.6v-2.1M937.5,1408.6v-2.0M938.5,1408.6v-1.3M939.5,1408.6v-2.1M940.5,1408.6v-1.9M941.5,1408.6v-1.9M942.5,1408.6v-1.6M943.5,1408.6v-2.2M944.5,1408.6v-2.1M945.5,1408.6v-1.3M946.5,1408.6v-0.8M947.5,1408.6v-1.2M948.5,1408.6v-1.8M949.5,1408.6v-1.2M950.5,1408.6v-1.4M951.5,1408.6v-2.4M952.5,1408.6v-2.2M953.5,1408.6v-1.8M954.5,1408.6v-2.1M955.5,1408.6v-1.9M956.5,1408.6v-1.4M957.5,1408.6v-1.2M958.5,1408.6v-1.9M959.5,1408.6v-1.3M960.5,1408.6v-1.6M961.5,1408.6v-2.4M962.5,1408.6v-1.5M963.5,1408.6v-2.3M964.5,1408.6v-1.3M965.5,1408.6v-1.7M966.5,1408.6v-1.3M967.5,1408.6v-1.7M968.5,1408.6v-1.4M969.5,1408.6v-1.5M970.5,1408.6v-0.9M971.5,1408.6v-2.2M972.5,1408.6v-1.2M973.5,1408.6v-1.1M974.5,1408.6v-1.3M975.5,1408.6v-2.0M976.5,1408.6v-1.8M977.5,1408.6v-1.3M978.5,1408.6v-1.8M979.5,1408.6v-1.1M980.5,1408.6v-1.6M981.5,1408.6v-0.9M982.5,1408.6v-1.8M983.5,1408.6v-2.4" stroke="#3a3a3a" stroke-width="1" fill="none"/><path d="M87.5,1408.6v-0.9M95.5,1408.6v-4.6M112.5,1408.6v-2.3M115.5,1408.6v-2.2M124.5,1408.6v-2.9M129.5,1408.6v-1.4M131.5,1408.6v-2.9M151.5,1408.6v-4.4M168.5,1408.6v-5.3M192.5,1408.6v-8.1M207.5,1408.6v-4.7M225.5,1408.6v-3.3M227.5,1408.6v-1.5M234.5,1408.6v-0.8M257.5,1408.6v-3.2M263.5,1408.6v-2.2M275.5,1408.6v-1.7M277.5,1408.6v-2.3M291.5,1408.6v-4.2M303.5,1408.6v-2.0M306.5,1408.6v-0.7M308.5,1408.6v-5.5M314.5,1408.6v-5.6M325.5,1408.6v-3.7M331.5,1408.6v-4.5M333.5,1408.6v-2.0M343.5,1408.6v-0.8M356.5,1408.6v-6.4M366.5,1408.6v-1.6M371.5,1408.6v-3.8M373.5,1408.6v-1.4M375.5,1408.6v-1.1M401.5,1408.6v-2.6M403.5,1408.6v-2.8M404.5,1408.6v-11.0M416.5,1408.6v-1.6M423.5,1408.6v-3.3M424.5,1408.6v-16.0M426.5,1408.6v-1.5M438.5,1408.6v-11.2M446.5,1408.6v-4.3M451.5,1408.6v-8.3M452.5,1408.6v-1.0M468.5,1408.6v-0.7M469.5,1408.6v-11.4M477.5,1408.6v-8.0M481.5,1408.6v-13.1M488.5,1408.6v-20.3M496.5,1408.6v-4.9M506.5,1408.6v-4.1M507.5,1408.6v-11.5M522.5,1408.6v-3.2M523.5,1408.6v-16.0M524.5,1408.6v-8.6M532.5,1408.6v-5.0M542.5,1408.6v-0.7M549.5,1408.6v-14.2M550.5,1408.6v-9.0M551.5,1408.6v-3.1M554.5,1408.6v-3.7M561.5,1408.6v-1.9M567.5,1408.6v-7.1M568.5,1408.6v-6.0M580.5,1408.6v-2.4M595.5,1408.6v-14.5M609.5,1408.6v-5.6M612.5,1408.6v-6.1M623.5,1408.6v-8.9M624.5,1408.6v-5.0M627.5,1408.6v-8.2M645.5,1408.6v-3.5M665.5,1408.6v-6.1M670.5,1408.6v-1.2M680.5,1408.6v-0.7M683.5,1408.6v-3.6M690.5,1408.6v-8.3M715.5,1408.6v-1.9M721.5,1408.6v-1.1M727.5,1408.6v-3.0M731.5,1408.6v-7.5M742.5,1408.6v-7.2M754.5,1408.6v-1.0M762.5,1408.6v-1.9M767.5,1408.6v-4.3M768.5,1408.6v-4.2M770.5,1408.6v-2.1M772.5,1408.6v-2.3M801.5,1408.6v-10.9M807.5,1408.6v-1.9M814.5,1408.6v-4.7M815.5,1408.6v-1.7M846.5,1408.6v-4.4M863.5,1408.6v-11.0M867.5,1408.6v-1.9M871.5,1408.6v-2.7M884.5,1408.6v-1.4M894.5,1408.6v-1.7M936.5,1408.6v-4.3" stroke="#444" stroke-width="1" fill="none"/><path d="M88.5,1408.6v-2.5M91.5,1408.6v-2.5M94.5,1408.6v-5.0M98.5,1408.6v-3.6M99.5,1408.6v-2.7M104.5,1408.6v-4.8M119.5,1408.6v-1.1M139.5,1408.6v-3.3M171.5,1408.6v-1.2M173.5,1408.6v-1.1M178.5,1408.6v-5.8M199.5,1408.6v-2.0M205.5,1408.6v-1.2M210.5,1408.6v-0.6M238.5,1408.6v-6.2M250.5,1408.6v-0.6M270.5,1408.6v-2.1M274.5,1408.6v-4.9M296.5,1408.6v-0.7M315.5,1408.6v-0.9M317.5,1408.6v-1.2M342.5,1408.6v-0.7M359.5,1408.6v-1.7M395.5,1408.6v-2.7M396.5,1408.6v-7.7M406.5,1408.6v-0.7M409.5,1408.6v-2.1M417.5,1408.6v-2.9M430.5,1408.6v-0.9M449.5,1408.6v-3.6M454.5,1408.6v-6.5M460.5,1408.6v-7.8M473.5,1408.6v-5.2M479.5,1408.6v-5.7M499.5,1408.6v-5.2M502.5,1408.6v-25.8M505.5,1408.6v-28.0M512.5,1408.6v-5.4M526.5,1408.6v-5.1M537.5,1408.6v-7.4M543.5,1408.6v-9.6M544.5,1408.6v-11.4M547.5,1408.6v-5.7M562.5,1408.6v-18.3M563.5,1408.6v-19.2M576.5,1408.6v-3.9M584.5,1408.6v-4.8M587.5,1408.6v-8.2M592.5,1408.6v-13.0M615.5,1408.6v-9.5M621.5,1408.6v-12.8M629.5,1408.6v-13.1M637.5,1408.6v-11.9M669.5,1408.6v-0.7M678.5,1408.6v-2.5M679.5,1408.6v-0.6M682.5,1408.6v-1.2M700.5,1408.6v-2.9M709.5,1408.6v-7.5M729.5,1408.6v-3.5M737.5,1408.6v-3.1M752.5,1408.6v-11.0M758.5,1408.6v-1.7M759.5,1408.6v-3.3M779.5,1408.6v-1.7M785.5,1408.6v-6.5M786.5,1408.6v-1.2M789.5,1408.6v-1.1M790.5,1408.6v-1.2M794.5,1408.6v-0.9M809.5,1408.6v-8.4M812.5,1408.6v-1.3M818.5,1408.6v-11.0M821.5,1408.6v-4.0M825.5,1408.6v-2.0M835.5,1408.6v-1.6M838.5,1408.6v-4.9M843.5,1408.6v-6.8M847.5,1408.6v-1.4M853.5,1408.6v-10.3M860.5,1408.6v-4.5M861.5,1408.6v-6.0M885.5,1408.6v-1.7M889.5,1408.6v-0.7M891.5,1408.6v-4.1M896.5,1408.6v-3.1M912.5,1408.6v-1.4M915.5,1408.6v-7.0M917.5,1408.6v-10.9M919.5,1408.6v-10.9M920.5,1408.6v-2.1M928.5,1408.6v-1.5M933.5,1408.6v-2.5M942.5,1408.6v-1.4M968.5,1408.6v-1.2M974.5,1408.6v-1.3M977.5,1408.6v-5.9M978.5,1408.6v-1.3" stroke="#555" stroke-width="1" fill="none"/><path d="M89.5,1408.6v-4.1M90.5,1408.6v-12.0M147.5,1408.6v-12.0M172.5,1408.6v-1.3M179.5,1408.6v-8.5M188.5,1408.6v-2.6M208.5,1408.6v-0.7M209.5,1408.6v-7.4M212.5,1408.6v-4.9M216.5,1408.6v-1.6M223.5,1408.6v-9.0M231.5,1408.6v-1.6M313.5,1408.6v-6.5M324.5,1408.6v-5.7M330.5,1408.6v-4.3M348.5,1408.6v-1.0M349.5,1408.6v-11.5M357.5,1408.6v-0.8M364.5,1408.6v-6.7M367.5,1408.6v-3.0M372.5,1408.6v-0.9M378.5,1408.6v-7.3M390.5,1408.6v-7.4M413.5,1408.6v-5.2M428.5,1408.6v-3.8M431.5,1408.6v-7.5M447.5,1408.6v-4.2M448.5,1408.6v-11.5M453.5,1408.6v-0.8M456.5,1408.6v-2.0M457.5,1408.6v-1.9M462.5,1408.6v-1.1M463.5,1408.6v-1.1M472.5,1408.6v-3.0M484.5,1408.6v-0.8M485.5,1408.6v-0.9M489.5,1408.6v-1.5M490.5,1408.6v-11.8M491.5,1408.6v-3.3M497.5,1408.6v-5.7M498.5,1408.6v-16.5M500.5,1408.6v-28.0M525.5,1408.6v-11.3M529.5,1408.6v-2.2M530.5,1408.6v-8.5M534.5,1408.6v-9.1M535.5,1408.6v-28.0M540.5,1408.6v-6.4M546.5,1408.6v-2.0M556.5,1408.6v-4.5M572.5,1408.6v-8.7M586.5,1408.6v-12.2M590.5,1408.6v-2.2M591.5,1408.6v-21.9M593.5,1408.6v-2.2M594.5,1408.6v-8.8M596.5,1408.6v-5.3M598.5,1408.6v-4.9M600.5,1408.6v-6.9M607.5,1408.6v-0.8M608.5,1408.6v-10.0M611.5,1408.6v-1.5M614.5,1408.6v-2.5M620.5,1408.6v-14.5M628.5,1408.6v-9.6M636.5,1408.6v-4.6M642.5,1408.6v-0.7M647.5,1408.6v-1.4M651.5,1408.6v-3.2M654.5,1408.6v-1.8M656.5,1408.6v-5.1M661.5,1408.6v-6.3M663.5,1408.6v-2.5M664.5,1408.6v-0.7M673.5,1408.6v-6.4M676.5,1408.6v-7.8M692.5,1408.6v-11.0M693.5,1408.6v-3.5M701.5,1408.6v-1.5M706.5,1408.6v-4.5M726.5,1408.6v-5.9M775.5,1408.6v-2.1M781.5,1408.6v-3.3M783.5,1408.6v-2.3M791.5,1408.6v-2.4M795.5,1408.6v-3.7M798.5,1408.6v-1.5M799.5,1408.6v-1.2M819.5,1408.6v-1.4M826.5,1408.6v-4.7M851.5,1408.6v-2.5M858.5,1408.6v-4.5M868.5,1408.6v-3.2M907.5,1408.6v-2.2M921.5,1408.6v-2.1M923.5,1408.6v-1.1M930.5,1408.6v-3.6M931.5,1408.6v-3.6M938.5,1408.6v-2.5M939.5,1408.6v-2.8M947.5,1408.6v-1.9M952.5,1408.6v-3.2M979.5,1408.6v-1.8" stroke="#111" stroke-width="1" fill="none"/><path d="M92.5,1408.6v-6.5M97.5,1408.6v-1.6M113.5,1408.6v-3.4M116.5,1408.6v-1.3M117.5,1408.6v-6.8M125.5,1408.6v-1.4M133.5,1408.6v-6.8M138.5,1408.6v-2.2M140.5,1408.6v-6.4M148.5,1408.6v-1.4M156.5,1408.6v-1.2M163.5,1408.6v-5.4M203.5,1408.6v-8.9M272.5,1408.6v-7.9M289.5,1408.6v-2.4M301.5,1408.6v-1.2M304.5,1408.6v-1.6M310.5,1408.6v-4.1M329.5,1408.6v-1.5M335.5,1408.6v-1.4M345.5,1408.6v-0.9M381.5,1408.6v-1.9M383.5,1408.6v-1.9M385.5,1408.6v-0.6M387.5,1408.6v-1.2M389.5,1408.6v-3.8M391.5,1408.6v-5.0M398.5,1408.6v-1.0M410.5,1408.6v-2.8M414.5,1408.6v-8.4M422.5,1408.6v-2.3M436.5,1408.6v-7.6M437.5,1408.6v-7.0M439.5,1408.6v-12.0M455.5,1408.6v-7.7M461.5,1408.6v-11.2M464.5,1408.6v-23.2M474.5,1408.6v-21.7M475.5,1408.6v-2.1M482.5,1408.6v-19.9M483.5,1408.6v-8.4M501.5,1408.6v-10.1M503.5,1408.6v-3.3M516.5,1408.6v-10.9M517.5,1408.6v-4.0M519.5,1408.6v-9.2M521.5,1408.6v-5.2M536.5,1408.6v-10.7M539.5,1408.6v-24.2M557.5,1408.6v-12.9M560.5,1408.6v-16.0M566.5,1408.6v-3.1M569.5,1408.6v-11.2M574.5,1408.6v-5.9M585.5,1408.6v-0.6M603.5,1408.6v-7.9M616.5,1408.6v-16.0M617.5,1408.6v-3.7M618.5,1408.6v-5.7M625.5,1408.6v-15.4M630.5,1408.6v-1.8M632.5,1408.6v-8.9M641.5,1408.6v-0.7M649.5,1408.6v-1.2M658.5,1408.6v-1.5M671.5,1408.6v-2.7M681.5,1408.6v-1.1M695.5,1408.6v-2.0M711.5,1408.6v-5.0M720.5,1408.6v-1.9M730.5,1408.6v-3.5M734.5,1408.6v-4.0M736.5,1408.6v-1.8M740.5,1408.6v-1.6M788.5,1408.6v-1.1M805.5,1408.6v-2.0M810.5,1408.6v-1.7M811.5,1408.6v-0.7M813.5,1408.6v-2.5M816.5,1408.6v-2.5M829.5,1408.6v-3.8M837.5,1408.6v-1.2M839.5,1408.6v-1.2M852.5,1408.6v-4.2M855.5,1408.6v-11.0M875.5,1408.6v-1.5M876.5,1408.6v-2.2M886.5,1408.6v-1.4M888.5,1408.6v-2.5M893.5,1408.6v-10.6M904.5,1408.6v-6.6M935.5,1408.6v-1.6M941.5,1408.6v-2.7M944.5,1408.6v-0.7M949.5,1408.6v-4.8M951.5,1408.6v-3.4M955.5,1408.6v-5.7M961.5,1408.6v-1.5M975.5,1408.6v-0.9M981.5,1408.6v-5.8" stroke="#222" stroke-width="1" fill="none"/><path d="M100.5,1408.6v-2.5M110.5,1408.6v-10.5M111.5,1408.6v-0.8M118.5,1408.6v-2.5M130.5,1408.6v-2.1M134.5,1408.6v-11.2M142.5,1408.6v-3.2M150.5,1408.6v-9.0M153.5,1408.6v-6.0M165.5,1408.6v-1.6M189.5,1408.6v-1.4M196.5,1408.6v-3.1M197.5,1408.6v-0.9M213.5,1408.6v-1.3M215.5,1408.6v-4.5M224.5,1408.6v-3.1M228.5,1408.6v-0.6M230.5,1408.6v-9.0M248.5,1408.6v-1.0M261.5,1408.6v-1.0M273.5,1408.6v-4.0M283.5,1408.6v-4.0M305.5,1408.6v-1.6M323.5,1408.6v-1.1M327.5,1408.6v-13.0M332.5,1408.6v-2.5M334.5,1408.6v-0.6M337.5,1408.6v-5.6M347.5,1408.6v-5.1M354.5,1408.6v-2.7M370.5,1408.6v-2.3M379.5,1408.6v-2.1M392.5,1408.6v-0.8M405.5,1408.6v-4.5M427.5,1408.6v-2.6M429.5,1408.6v-12.1M440.5,1408.6v-2.8M441.5,1408.6v-2.0M442.5,1408.6v-2.1M443.5,1408.6v-8.7M458.5,1408.6v-9.4M466.5,1408.6v-2.1M476.5,1408.6v-2.0M486.5,1408.6v-7.7M492.5,1408.6v-8.9M493.5,1408.6v-0.8M494.5,1408.6v-12.0M495.5,1408.6v-5.8M508.5,1408.6v-2.4M511.5,1408.6v-4.0M513.5,1408.6v-5.2M538.5,1408.6v-0.7M541.5,1408.6v-8.7M553.5,1408.6v-13.7M555.5,1408.6v-9.2M559.5,1408.6v-9.1M573.5,1408.6v-11.3M575.5,1408.6v-8.5M577.5,1408.6v-3.3M578.5,1408.6v-14.6M579.5,1408.6v-3.8M581.5,1408.6v-3.7M602.5,1408.6v-4.1M606.5,1408.6v-6.7M613.5,1408.6v-3.9M619.5,1408.6v-0.6M631.5,1408.6v-7.2M635.5,1408.6v-1.1M638.5,1408.6v-2.3M650.5,1408.6v-0.7M657.5,1408.6v-2.2M668.5,1408.6v-7.1M674.5,1408.6v-2.0M688.5,1408.6v-2.0M702.5,1408.6v-0.9M707.5,1408.6v-1.2M708.5,1408.6v-2.8M714.5,1408.6v-9.7M716.5,1408.6v-11.0M718.5,1408.6v-10.7M719.5,1408.6v-3.8M728.5,1408.6v-1.0M735.5,1408.6v-7.7M743.5,1408.6v-6.4M745.5,1408.6v-1.9M746.5,1408.6v-3.6M755.5,1408.6v-2.0M756.5,1408.6v-2.2M764.5,1408.6v-7.8M773.5,1408.6v-11.0M776.5,1408.6v-1.0M793.5,1408.6v-1.5M827.5,1408.6v-4.6M841.5,1408.6v-4.3M845.5,1408.6v-1.8M856.5,1408.6v-1.3M859.5,1408.6v-9.4M864.5,1408.6v-1.7M865.5,1408.6v-7.8M873.5,1408.6v-0.9M880.5,1408.6v-6.2M881.5,1408.6v-8.7M902.5,1408.6v-3.3M903.5,1408.6v-1.7M906.5,1408.6v-9.8M926.5,1408.6v-5.0M943.5,1408.6v-3.0M946.5,1408.6v-9.5M950.5,1408.6v-2.8M954.5,1408.6v-2.0M963.5,1408.6v-3.3M971.5,1408.6v-7.9" stroke="#333" stroke-width="1" fill="none"/><text class="l" x="137.0" y="1102.5">105.2796</text><polyline points="128.9,1105.0 136.7,1101.0" stroke="#555" stroke-width="1" fill="none"/><text class="l" x="130.7" y="1356.6">106.0342</text><polyline points="130.1,1366.2 137.4,1359.6" stroke="#555" stroke-width="1" fill="none"/><text class="l" x="303.3" y="1357.2" text-anchor="middle">307.7679</text><text class="l" x="343.9" y="1364.5">354.9572</text><polyline points="343.4,1374.5 350.9,1367.0" stroke="#555" stroke-width="1" fill="none"/><text class="l" x="511.2" y="1221.2">543.2939</text><polyline points="504.6,1226.0 506.0,1222.5 511.1,1219.6" stroke="#555" stroke-width="1" fill="none"/><text class="l" x="504.3" y="1247.0">544.2462</text><polyline points="504.6,1256.8 512.1,1250.5" stroke="#555" stroke-width="1" fill="none"/><text class="l" x="491.4" y="1334.2" text-anchor="end">528.0511</text><polyline points="492.9,1344.0 486.6,1337.1" stroke="#555" stroke-width="1" fill="none"/><text class="l" x="486.5" y="1355.7" text-anchor="end">520.9893</text><polyline points="486.2,1365.5 479.7,1358.7" stroke="#555" stroke-width="1" fill="none"/><text class="l" x="514.1" y="1343.4">553.9034</text><polyline points="514.4,1353.8 521.5,1345.9" stroke="#555" stroke-width="1" fill="none"/><text class="l" x="547.0" y="1366.5">592.2427</text><polyline points="547.3,1377.3 554.8,1368.9" stroke="#555" stroke-width="1" fill="none"/><path d="M498.40,1258.80L489.59,1254.53L496.35,1249.22z" fill="#000" opacity="0.3" transform="translate(1.6,2.0)" filter="url(#sh)"/><path d="M459.2,1208.8L493.6,1252.7" stroke="#000" opacity="0.16" stroke-width="2.2" fill="none" transform="translate(1.5,1.9)" filter="url(#sh)"/><path d="M459.2,1208.8L493.6,1252.7" stroke="#c8000a" stroke-width="2.0" fill="none"/><path d="M498.40,1258.80L489.59,1254.53L496.35,1249.22z" fill="#c8000a"/><path d="M81.8,1098.4L85.8,1095.0L85.8,1101.8z" fill="#111"/><text x="86.5" y="1102.6" style="font-size:11.8px;fill:#e8101c;stroke:#e8101c;stroke-width:0.35px">x2</text></g>
<g><text class="L" x="3.9" y="1466.0">E</text><text class="h" x="46.9" y="1443.8">CT 125 (4.485)</text><text class="h" x="1010.3" y="1443.7" text-anchor="end">2: Scan ES-</text><text class="h" x="1013.3" y="1459.4" text-anchor="end">2.55e5</text><path d="M78.80,1461.80V1764.65M73.30,1461.80H78.80M75.80,1494.62H78.80M75.80,1527.44H78.80M75.80,1560.26H78.80M75.80,1593.08H78.80M73.30,1625.90H78.80M75.80,1658.72H78.80M75.80,1691.54H78.80M75.80,1724.37H78.80M75.80,1757.19H78.80" stroke="#2a2a2a" stroke-width="1.35" fill="none"/><path d="M78.20,1764.65H980.70" stroke="#111" stroke-width="1.7" fill="none"/><path d="M78.94,1764.65v6.3M87.53,1764.65v3.6M96.12,1764.65v3.6M104.71,1764.65v3.6M113.31,1764.65v3.6M121.90,1764.65v6.3M130.49,1764.65v3.6M139.09,1764.65v3.6M147.68,1764.65v3.6M156.27,1764.65v3.6M164.87,1764.65v6.3M173.46,1764.65v3.6M182.05,1764.65v3.6M190.64,1764.65v3.6M199.24,1764.65v3.6M207.83,1764.65v6.3M216.42,1764.65v3.6M225.02,1764.65v3.6M233.61,1764.65v3.6M242.20,1764.65v3.6M250.79,1764.65v6.3M259.39,1764.65v3.6M267.98,1764.65v3.6M276.57,1764.65v3.6M285.17,1764.65v3.6M293.76,1764.65v6.3M302.35,1764.65v3.6M310.95,1764.65v3.6M319.54,1764.65v3.6M328.13,1764.65v3.6M336.73,1764.65v6.3M345.32,1764.65v3.6M353.91,1764.65v3.6M362.50,1764.65v3.6M371.10,1764.65v3.6M379.69,1764.65v6.3M388.28,1764.65v3.6M396.88,1764.65v3.6M405.47,1764.65v3.6M414.06,1764.65v3.6M422.65,1764.65v6.3M431.25,1764.65v3.6M439.84,1764.65v3.6M448.43,1764.65v3.6M457.03,1764.65v3.6M465.62,1764.65v6.3M474.21,1764.65v3.6M482.81,1764.65v3.6M491.40,1764.65v3.6M499.99,1764.65v3.6M508.59,1764.65v6.3M517.18,1764.65v3.6M525.77,1764.65v3.6M534.36,1764.65v3.6M542.96,1764.65v3.6M551.55,1764.65v6.3M560.14,1764.65v3.6M568.74,1764.65v3.6M577.33,1764.65v3.6M585.92,1764.65v3.6M594.51,1764.65v6.3M603.11,1764.65v3.6M611.70,1764.65v3.6M620.29,1764.65v3.6M628.89,1764.65v3.6M637.48,1764.65v6.3M646.07,1764.65v3.6M654.67,1764.65v3.6M663.26,1764.65v3.6M671.85,1764.65v3.6M680.44,1764.65v6.3M689.04,1764.65v3.6M697.63,1764.65v3.6M706.22,1764.65v3.6M714.82,1764.65v3.6M723.41,1764.65v6.3M732.00,1764.65v3.6M740.60,1764.65v3.6M749.19,1764.65v3.6M757.78,1764.65v3.6M766.37,1764.65v6.3M774.97,1764.65v3.6M783.56,1764.65v3.6M792.15,1764.65v3.6M800.75,1764.65v3.6M809.34,1764.65v6.3M817.93,1764.65v3.6M826.53,1764.65v3.6M835.12,1764.65v3.6M843.71,1764.65v3.6M852.30,1764.65v6.3M860.90,1764.65v3.6M869.49,1764.65v3.6M878.08,1764.65v3.6M886.68,1764.65v3.6M895.27,1764.65v6.3M903.86,1764.65v3.6M912.46,1764.65v3.6M921.05,1764.65v3.6M929.64,1764.65v3.6M938.23,1764.65v6.3M946.83,1764.65v3.6M955.42,1764.65v3.6M964.01,1764.65v3.6M972.61,1764.65v3.6" stroke="#333" stroke-width="1.2" fill="none"/><text class="h" x="122.2" y="1783.2" text-anchor="middle">100</text><text class="h" x="208.1" y="1783.2" text-anchor="middle">200</text><text class="h" x="294.1" y="1783.2" text-anchor="middle">300</text><text class="h" x="380.0" y="1783.2" text-anchor="middle">400</text><text class="h" x="465.9" y="1783.2" text-anchor="middle">500</text><text class="h" x="551.8" y="1783.2" text-anchor="middle">600</text><text class="h" x="637.8" y="1783.2" text-anchor="middle">700</text><text class="h" x="723.7" y="1783.2" text-anchor="middle">800</text><text class="h" x="809.6" y="1783.2" text-anchor="middle">900</text><text class="h" x="895.6" y="1783.2" text-anchor="middle">1000</text><text class="h" x="981.5" y="1783.2" text-anchor="middle">1100</text><text class="h" x="986.7" y="1769.7">m/z</text><text class="h" x="72.8" y="1769.2" text-anchor="end">8</text><g transform="translate(68.50,1613.00)" stroke="#1e1e1e" stroke-width="1.1" fill="none"><ellipse cx="2.7" cy="-3.3" rx="2.2" ry="1.5"/><ellipse cx="-2.6" cy="3.2" rx="2.25" ry="1.6"/><path d="M-5.2,-2.95L5.0,2.45"/></g><path d="M167.00,1764.65V1729.60M260.70,1764.65V1738.40M353.40,1764.65V1632.40M384.60,1764.65V1670.50M420.60,1764.65V1694.20M421.40,1764.65V1724.40M481.00,1764.65V1622.40M635.50,1764.65V1712.00M667.10,1764.65V1757.10M795.80,1764.65V1582.40M824.80,1764.65V1595.90M203.40,1764.65V1747.80M210.80,1764.65V1747.80M243.40,1764.65V1762.00M254.30,1764.65V1743.40M345.40,1764.65V1761.50M377.70,1764.65V1750.20M394.80,1764.65V1753.00M408.30,1764.65V1702.80M409.00,1764.65V1720.00M410.10,1764.65V1731.50M432.50,1764.65V1761.00M435.30,1764.65V1744.80M441.10,1764.65V1759.90M468.00,1764.65V1762.00M714.80,1764.65V1758.70M806.70,1764.65V1626.00M820.70,1764.65V1738.30M853.60,1764.65V1760.50" stroke="#555" stroke-width="1.3" fill="none"/><path d="M421.20,1764.65V1724.40M408.60,1764.65V1740.00" stroke="#2a2a2a" stroke-width="1.6" fill="none"/><text class="l" x="167.0" y="1727.3" text-anchor="middle">152.4532</text><text class="l" x="260.7" y="1735.5" text-anchor="middle">261.7264</text><text class="l" x="353.4" y="1629.1" text-anchor="middle">369.6395</text><text class="l" x="384.6" y="1667.3" text-anchor="middle">405.8771</text><text class="l" x="420.6" y="1690.3" text-anchor="middle">447.7939</text><text class="l" x="420.8" y="1714.0">448.5503</text><polyline points="421.3,1724.4 429.2,1716.8" stroke="#555" stroke-width="1" fill="none"/><text class="l" x="481.0" y="1618.8" text-anchor="middle">519.0821</text><text class="l" x="635.5" y="1708.8" text-anchor="middle">697.4310</text><text class="l" x="667.1" y="1754.5" text-anchor="middle">735.1431</text><text class="l" x="795.8" y="1579.4" text-anchor="middle">884.2161</text><text class="l" x="824.7" y="1585.2">918.5165</text><polyline points="824.9,1595.9 832.6,1587.8" stroke="#555" stroke-width="1" fill="none"/><path d="M484.80,1656.50L488.01,1647.25L494.07,1653.35z" fill="#000" opacity="0.3" transform="translate(1.6,2.0)" filter="url(#sh)"/><path d="M516.7,1624.8L490.3,1651.0" stroke="#000" opacity="0.16" stroke-width="2.2" fill="none" transform="translate(1.5,1.9)" filter="url(#sh)"/><path d="M516.7,1624.8L490.3,1651.0" stroke="#c8000a" stroke-width="2.0" fill="none"/><path d="M484.80,1656.50L488.01,1647.25L494.07,1653.35z" fill="#c8000a"/></g>
<rect x="1010.2" y="1421.8" width="10.8" height="45" fill="#fff"/>
<g><text class="L" x="11.7" y="1820.0">F</text><text class="h" x="51.2" y="1800.3">CT 132 (4.884)</text><text class="h" x="1014.9" y="1800.2" text-anchor="end">1: Scan ES+</text><text class="h" x="1017.9" y="1815.9" text-anchor="end">2.21e6</text><path d="M83.40,1818.30V2121.30M77.90,1818.30H83.40M80.40,1848.82H83.40M80.40,1879.33H83.40M80.40,1909.85H83.40M80.40,1940.36H83.40M77.90,1970.88H83.40M80.40,2001.39H83.40M80.40,2031.91H83.40M80.40,2062.42H83.40M80.40,2092.94H83.40" stroke="#2a2a2a" stroke-width="1.35" fill="none"/><path d="M82.80,2121.30H985.40" stroke="#111" stroke-width="1.7" fill="none"/><path d="M83.63,2121.30v6.3M92.23,2121.30v3.6M100.82,2121.30v3.6M109.41,2121.30v3.6M118.01,2121.30v3.6M126.60,2121.30v6.3M135.19,2121.30v3.6M143.79,2121.30v3.6M152.38,2121.30v3.6M160.97,2121.30v3.6M169.56,2121.30v6.3M178.16,2121.30v3.6M186.75,2121.30v3.6M195.34,2121.30v3.6M203.94,2121.30v3.6M212.53,2121.30v6.3M221.12,2121.30v3.6M229.72,2121.30v3.6M238.31,2121.30v3.6M246.90,2121.30v3.6M255.49,2121.30v6.3M264.09,2121.30v3.6M272.68,2121.30v3.6M281.27,2121.30v3.6M289.87,2121.30v3.6M298.46,2121.30v6.3M307.05,2121.30v3.6M315.65,2121.30v3.6M324.24,2121.30v3.6M332.83,2121.30v3.6M341.42,2121.30v6.3M350.02,2121.30v3.6M358.61,2121.30v3.6M367.20,2121.30v3.6M375.80,2121.30v3.6M384.39,2121.30v6.3M392.98,2121.30v3.6M401.58,2121.30v3.6M410.17,2121.30v3.6M418.76,2121.30v3.6M427.36,2121.30v6.3M435.95,2121.30v3.6M444.54,2121.30v3.6M453.13,2121.30v3.6M461.73,2121.30v3.6M470.32,2121.30v6.3M478.91,2121.30v3.6M487.51,2121.30v3.6M496.10,2121.30v3.6M504.69,2121.30v3.6M513.28,2121.30v6.3M521.88,2121.30v3.6M530.47,2121.30v3.6M539.06,2121.30v3.6M547.66,2121.30v3.6M556.25,2121.30v6.3M564.84,2121.30v3.6M573.44,2121.30v3.6M582.03,2121.30v3.6M590.62,2121.30v3.6M599.21,2121.30v6.3M607.81,2121.30v3.6M616.40,2121.30v3.6M624.99,2121.30v3.6M633.59,2121.30v3.6M642.18,2121.30v6.3M650.77,2121.30v3.6M659.37,2121.30v3.6M667.96,2121.30v3.6M676.55,2121.30v3.6M685.14,2121.30v6.3M693.74,2121.30v3.6M702.33,2121.30v3.6M710.92,2121.30v3.6M719.52,2121.30v3.6M728.11,2121.30v6.3M736.70,2121.30v3.6M745.30,2121.30v3.6M753.89,2121.30v3.6M762.48,2121.30v3.6M771.07,2121.30v6.3M779.67,2121.30v3.6M788.26,2121.30v3.6M796.85,2121.30v3.6M805.45,2121.30v3.6M814.04,2121.30v6.3M822.63,2121.30v3.6M831.23,2121.30v3.6M839.82,2121.30v3.6M848.41,2121.30v3.6M857.00,2121.30v6.3M865.60,2121.30v3.6M874.19,2121.30v3.6M882.78,2121.30v3.6M891.38,2121.30v3.6M899.97,2121.30v6.3M908.56,2121.30v3.6M917.16,2121.30v3.6M925.75,2121.30v3.6M934.34,2121.30v3.6M942.93,2121.30v6.3M951.53,2121.30v3.6M960.12,2121.30v3.6M968.71,2121.30v3.6M977.31,2121.30v3.6" stroke="#333" stroke-width="1.2" fill="none"/><text class="h" x="126.9" y="2139.9" text-anchor="middle">100</text><text class="h" x="212.8" y="2139.9" text-anchor="middle">200</text><text class="h" x="298.8" y="2139.9" text-anchor="middle">300</text><text class="h" x="384.7" y="2139.9" text-anchor="middle">400</text><text class="h" x="470.6" y="2139.9" text-anchor="middle">500</text><text class="h" x="556.5" y="2139.9" text-anchor="middle">600</text><text class="h" x="642.5" y="2139.9" text-anchor="middle">700</text><text class="h" x="728.4" y="2139.9" text-anchor="middle">800</text><text class="h" x="814.3" y="2139.9" text-anchor="middle">900</text><text class="h" x="900.3" y="2139.9" text-anchor="middle">1000</text><text class="h" x="986.2" y="2139.9" text-anchor="middle">1100</text><text class="h" x="991.4" y="2126.3">m/z</text><text class="h" x="77.4" y="2125.9" text-anchor="end">1</text><g transform="translate(73.10,1969.50)" stroke="#1e1e1e" stroke-width="1.1" fill="none"><ellipse cx="2.7" cy="-3.3" rx="2.2" ry="1.5"/><ellipse cx="-2.6" cy="3.2" rx="2.25" ry="1.6"/><path d="M-5.2,-2.95L5.0,2.45"/></g><path d="M140.30,2121.30V1818.50M141.60,2121.30V1955.10M160.70,2121.30V2068.80M215.50,2121.30V2043.40M216.60,2121.30V2088.00M279.10,2121.30V2070.80M354.70,2121.30V2010.90M368.10,2121.30V2093.00M474.10,2121.30V1820.30M474.60,2121.30V2059.50M139.60,2121.30V1870.50M141.10,2121.30V1981.80M142.30,2121.30V1960.00M130.90,2121.30V1973.60M131.50,2121.30V1980.00M111.80,2121.30V2022.20M111.30,2121.30V2054.70M112.90,2121.30V2078.20M94.90,2121.30V2108.00M108.70,2121.30V2105.60M127.50,2121.30V2100.10M133.30,2121.30V2111.10M161.50,2121.30V2087.60M159.60,2121.30V2094.60M152.40,2121.30V2101.70M172.10,2121.30V2087.60M174.50,2121.30V2098.50M180.00,2121.30V2090.70M191.30,2121.30V2069.50M197.50,2121.30V2093.10M198.60,2121.30V2095.40M164.90,2121.30V2107.20M188.10,2121.30V2106.40M195.20,2121.30V2104.80M183.40,2121.30V2107.20M210.90,2121.30V2108.00M228.90,2121.30V2107.20M231.20,2121.30V2109.50M228.70,2121.30V2108.10M243.70,2121.30V2107.40M250.60,2121.30V2102.00M257.50,2121.30V2104.20M262.90,2121.30V2106.40M279.70,2121.30V2095.60M281.90,2121.30V2099.90M292.70,2121.30V2101.00M316.80,2121.30V2109.20M330.40,2121.30V2101.60M341.10,2121.30V2110.70M355.10,2121.30V2097.70M370.20,2121.30V2110.70M393.90,2121.30V2108.10M413.30,2121.30V2112.40M418.30,2121.30V2101.00M418.50,2121.30V2100.50M414.10,2121.30V2111.80M433.40,2121.30V2111.50M452.50,2121.30V2113.80M477.90,2121.30V2109.90M494.00,2121.30V2093.50M512.00,2121.30V2114.60M543.90,2121.30V2114.60M543.50,2121.30V2115.10M560.70,2121.30V2116.50M563.50,2121.30V2108.10M574.80,2121.30V2117.50M624.60,2121.30V2118.70M636.40,2121.30V2117.00M649.30,2121.30V2114.20M658.20,2121.30V2116.50M766.80,2121.30V2118.70M771.50,2121.30V2118.20M931.70,2121.30V2115.10M959.20,2121.30V2115.10M978.00,2121.30V2118.00M353.90,2121.30V2104.00M355.60,2121.30V2097.00M356.40,2121.30V2108.00M214.70,2121.30V2106.00M217.40,2121.30V2104.00M369.00,2121.30V2100.00M369.90,2121.30V2104.00M371.00,2121.30V2106.00M162.40,2121.30V2098.00M280.60,2121.30V2100.00M278.30,2121.30V2104.00M113.80,2121.30V2100.00M132.00,2121.30V2095.00M475.00,2121.30V2104.00M473.30,2121.30V2108.00" stroke="#555" stroke-width="1.3" fill="none"/><path d="M141.40,2121.30V1955.10M474.50,2121.30V2059.50M139.80,2121.30V1870.50M354.90,2121.30V2097.00" stroke="#2a2a2a" stroke-width="1.6" fill="none"/><path d="M84.5,2121.3v-0.8M85.5,2121.3v-0.8M86.5,2121.3v-0.9M87.5,2121.3v-0.9M88.5,2121.3v-0.5M89.5,2121.3v-1.0M90.5,2121.3v-0.9M91.5,2121.3v-0.5M92.5,2121.3v-0.4M93.5,2121.3v-0.9M94.5,2121.3v-0.7M95.5,2121.3v-0.6M96.5,2121.3v-0.9M97.5,2121.3v-0.6M98.5,2121.3v-1.2M99.5,2121.3v-1.0M100.5,2121.3v-0.4M101.5,2121.3v-0.5M102.5,2121.3v-1.2M103.5,2121.3v-0.4M104.5,2121.3v-0.7M105.5,2121.3v-0.7M106.5,2121.3v-0.6M107.5,2121.3v-0.7M108.5,2121.3v-1.0M109.5,2121.3v-0.4M110.5,2121.3v-0.8M111.5,2121.3v-0.6M112.5,2121.3v-1.2M113.5,2121.3v-0.7M114.5,2121.3v-0.7M115.5,2121.3v-0.4M116.5,2121.3v-1.2M117.5,2121.3v-1.2M118.5,2121.3v-0.9M119.5,2121.3v-0.8M120.5,2121.3v-0.7M121.5,2121.3v-0.6M122.5,2121.3v-0.7M123.5,2121.3v-1.2M124.5,2121.3v-0.9M125.5,2121.3v-0.5M126.5,2121.3v-0.6M127.5,2121.3v-0.6M128.5,2121.3v-1.1M129.5,2121.3v-0.7M130.5,2121.3v-0.6M131.5,2121.3v-0.6M132.5,2121.3v-0.9M133.5,2121.3v-1.2M134.5,2121.3v-1.1M135.5,2121.3v-0.6M136.5,2121.3v-0.6M137.5,2121.3v-0.6M138.5,2121.3v-0.9M139.5,2121.3v-1.2M140.5,2121.3v-4.3M141.5,2121.3v-4.2M142.5,2121.3v-3.3M143.5,2121.3v-2.5M144.5,2121.3v-1.7M145.5,2121.3v-3.7M146.5,2121.3v-2.6M147.5,2121.3v-4.3M148.5,2121.3v-3.4M149.5,2121.3v-1.7M150.5,2121.3v-4.1M151.5,2121.3v-3.6M152.5,2121.3v-1.8M153.5,2121.3v-1.8M154.5,2121.3v-3.0M155.5,2121.3v-4.2M156.5,2121.3v-2.1M157.5,2121.3v-4.3M158.5,2121.3v-3.5M159.5,2121.3v-4.1M160.5,2121.3v-2.1M161.5,2121.3v-3.6M162.5,2121.3v-2.3M163.5,2121.3v-4.3M164.5,2121.3v-3.0M165.5,2121.3v-2.9M166.5,2121.3v-1.6M167.5,2121.3v-3.4M168.5,2121.3v-2.9M169.5,2121.3v-3.8M170.5,2121.3v-2.8M171.5,2121.3v-4.4M172.5,2121.3v-2.3M173.5,2121.3v-3.6M174.5,2121.3v-3.1M175.5,2121.3v-3.0M176.5,2121.3v-2.0M177.5,2121.3v-1.8M178.5,2121.3v-3.7M179.5,2121.3v-4.2M180.5,2121.3v-4.1M181.5,2121.3v-2.5M182.5,2121.3v-1.8M183.5,2121.3v-1.9M184.5,2121.3v-4.4M185.5,2121.3v-2.3M186.5,2121.3v-1.7M187.5,2121.3v-3.0M188.5,2121.3v-2.8M189.5,2121.3v-3.9M190.5,2121.3v-4.2M191.5,2121.3v-4.3M192.5,2121.3v-3.8M193.5,2121.3v-3.2M194.5,2121.3v-2.3M195.5,2121.3v-2.1M196.5,2121.3v-2.3M197.5,2121.3v-3.0M198.5,2121.3v-3.0M199.5,2121.3v-1.9M200.5,2121.3v-2.9M201.5,2121.3v-3.9M202.5,2121.3v-1.9M203.5,2121.3v-3.1M204.5,2121.3v-4.3M205.5,2121.3v-1.6M206.5,2121.3v-2.5M207.5,2121.3v-3.0M208.5,2121.3v-2.3M209.5,2121.3v-1.6M210.5,2121.3v-2.0M211.5,2121.3v-2.2M212.5,2121.3v-4.1M213.5,2121.3v-4.2M214.5,2121.3v-2.2M215.5,2121.3v-4.2M216.5,2121.3v-1.8M217.5,2121.3v-3.1M218.5,2121.3v-3.6M219.5,2121.3v-2.6M220.5,2121.3v-3.0M221.5,2121.3v-4.0M222.5,2121.3v-1.6M223.5,2121.3v-2.9M224.5,2121.3v-4.0M225.5,2121.3v-4.3M226.5,2121.3v-2.9M227.5,2121.3v-2.8M228.5,2121.3v-1.5M229.5,2121.3v-2.7M230.5,2121.3v-3.3M231.5,2121.3v-4.2M232.5,2121.3v-4.3M233.5,2121.3v-4.4M234.5,2121.3v-3.7M235.5,2121.3v-1.9M236.5,2121.3v-3.8M237.5,2121.3v-2.1M238.5,2121.3v-1.5M239.5,2121.3v-1.6M240.5,2121.3v-1.7M241.5,2121.3v-1.2M242.5,2121.3v-2.4M243.5,2121.3v-3.0M244.5,2121.3v-1.5M245.5,2121.3v-2.3M246.5,2121.3v-2.8M247.5,2121.3v-2.1M248.5,2121.3v-2.3M249.5,2121.3v-1.2M250.5,2121.3v-1.8M251.5,2121.3v-1.8M252.5,2121.3v-2.7M253.5,2121.3v-2.9M254.5,2121.3v-1.6M255.5,2121.3v-2.1M256.5,2121.3v-1.1M257.5,2121.3v-2.2M258.5,2121.3v-1.8M259.5,2121.3v-2.5M260.5,2121.3v-1.1M261.5,2121.3v-1.9M262.5,2121.3v-1.1M263.5,2121.3v-1.3M264.5,2121.3v-1.5M265.5,2121.3v-1.1M266.5,2121.3v-1.7M267.5,2121.3v-2.3M268.5,2121.3v-2.4M269.5,2121.3v-2.9M270.5,2121.3v-1.5M271.5,2121.3v-2.2M272.5,2121.3v-2.5M273.5,2121.3v-2.5M274.5,2121.3v-2.8M275.5,2121.3v-1.1M276.5,2121.3v-1.1M277.5,2121.3v-1.1M278.5,2121.3v-1.5M279.5,2121.3v-2.0M280.5,2121.3v-2.5M281.5,2121.3v-1.1M282.5,2121.3v-2.7M283.5,2121.3v-1.9M284.5,2121.3v-1.8M285.5,2121.3v-1.7M286.5,2121.3v-1.9M287.5,2121.3v-1.2M288.5,2121.3v-2.6M289.5,2121.3v-1.2M290.5,2121.3v-2.4M291.5,2121.3v-1.6M292.5,2121.3v-1.7M293.5,2121.3v-1.6M294.5,2121.3v-2.8M295.5,2121.3v-1.9M296.5,2121.3v-2.8M297.5,2121.3v-1.0M298.5,2121.3v-2.5M299.5,2121.3v-2.7M300.5,2121.3v-2.5M301.5,2121.3v-1.0M302.5,2121.3v-2.1M303.5,2121.3v-1.0M304.5,2121.3v-1.5M305.5,2121.3v-1.1M306.5,2121.3v-2.4M307.5,2121.3v-2.3M308.5,2121.3v-1.5M309.5,2121.3v-1.5M310.5,2121.3v-1.0M311.5,2121.3v-1.5M312.5,2121.3v-2.5M313.5,2121.3v-2.1M314.5,2121.3v-1.7M315.5,2121.3v-1.2M316.5,2121.3v-1.3M317.5,2121.3v-1.7M318.5,2121.3v-1.4M319.5,2121.3v-2.3M320.5,2121.3v-1.5M321.5,2121.3v-1.3M322.5,2121.3v-2.0M323.5,2121.3v-1.6M324.5,2121.3v-2.6M325.5,2121.3v-1.8M326.5,2121.3v-2.1M327.5,2121.3v-1.1M328.5,2121.3v-1.6M329.5,2121.3v-2.7M330.5,2121.3v-2.3M331.5,2121.3v-1.0M332.5,2121.3v-2.5M333.5,2121.3v-2.5M334.5,2121.3v-2.0M335.5,2121.3v-1.2M336.5,2121.3v-2.4M337.5,2121.3v-1.4M338.5,2121.3v-0.9M339.5,2121.3v-2.4M340.5,2121.3v-1.0M341.5,2121.3v-2.5M342.5,2121.3v-2.0M343.5,2121.3v-1.4M344.5,2121.3v-1.7M345.5,2121.3v-1.1M346.5,2121.3v-1.3M347.5,2121.3v-2.6M348.5,2121.3v-1.5M349.5,2121.3v-2.1M350.5,2121.3v-1.1M351.5,2121.3v-2.1M352.5,2121.3v-1.8M353.5,2121.3v-2.4M354.5,2121.3v-2.2M355.5,2121.3v-1.2M356.5,2121.3v-1.4M357.5,2121.3v-1.1M358.5,2121.3v-1.5M359.5,2121.3v-1.9M360.5,2121.3v-1.5M361.5,2121.3v-1.1M362.5,2121.3v-2.0M363.5,2121.3v-2.4M364.5,2121.3v-1.0M365.5,2121.3v-1.7M366.5,2121.3v-1.5M367.5,2121.3v-2.6M368.5,2121.3v-2.4M369.5,2121.3v-2.0M370.5,2121.3v-2.0M371.5,2121.3v-2.1M372.5,2121.3v-1.2M373.5,2121.3v-1.6M374.5,2121.3v-2.0M375.5,2121.3v-1.9M376.5,2121.3v-1.9M377.5,2121.3v-2.2M378.5,2121.3v-1.9M379.5,2121.3v-1.1M380.5,2121.3v-1.5M381.5,2121.3v-1.6M382.5,2121.3v-1.1M383.5,2121.3v-1.9M384.5,2121.3v-1.2M385.5,2121.3v-2.5M386.5,2121.3v-1.4M387.5,2121.3v-1.3M388.5,2121.3v-2.0M389.5,2121.3v-1.7M390.5,2121.3v-1.1M391.5,2121.3v-2.4M392.5,2121.3v-2.0M393.5,2121.3v-1.3M394.5,2121.3v-1.1M395.5,2121.3v-1.4M396.5,2121.3v-2.3M397.5,2121.3v-2.3M398.5,2121.3v-1.7M399.5,2121.3v-1.9M400.5,2121.3v-2.4M401.5,2121.3v-1.6M402.5,2121.3v-1.5M403.5,2121.3v-1.5M404.5,2121.3v-2.2M405.5,2121.3v-2.5M406.5,2121.3v-1.3M407.5,2121.3v-1.3M408.5,2121.3v-2.7M409.5,2121.3v-1.9M410.5,2121.3v-2.7M411.5,2121.3v-2.5M412.5,2121.3v-2.3M413.5,2121.3v-1.1M414.5,2121.3v-1.1M415.5,2121.3v-1.4M416.5,2121.3v-0.9M417.5,2121.3v-2.4M418.5,2121.3v-1.3M419.5,2121.3v-1.5M420.5,2121.3v-1.4M421.5,2121.3v-1.0M422.5,2121.3v-1.4M423.5,2121.3v-1.4M424.5,2121.3v-1.5M425.5,2121.3v-1.4M426.5,2121.3v-1.2M427.5,2121.3v-1.4M428.5,2121.3v-0.6M429.5,2121.3v-1.4M430.5,2121.3v-1.4M431.5,2121.3v-0.7M432.5,2121.3v-0.9M433.5,2121.3v-1.4M434.5,2121.3v-0.7M435.5,2121.3v-0.7M436.5,2121.3v-1.5M437.5,2121.3v-1.4M438.5,2121.3v-0.8M439.5,2121.3v-0.6M440.5,2121.3v-0.7M441.5,2121.3v-0.5M442.5,2121.3v-0.7M443.5,2121.3v-1.1M444.5,2121.3v-1.1M445.5,2121.3v-0.7M446.5,2121.3v-1.1M447.5,2121.3v-1.0M448.5,2121.3v-1.3M449.5,2121.3v-1.0M450.5,2121.3v-0.7M451.5,2121.3v-0.7M452.5,2121.3v-0.7M453.5,2121.3v-1.3M454.5,2121.3v-1.4M455.5,2121.3v-0.8M456.5,2121.3v-1.1M457.5,2121.3v-0.7M458.5,2121.3v-1.3M459.5,2121.3v-1.2M460.5,2121.3v-0.5M461.5,2121.3v-1.0M462.5,2121.3v-0.7M463.5,2121.3v-1.2M464.5,2121.3v-1.2M465.5,2121.3v-1.3M466.5,2121.3v-1.2M467.5,2121.3v-0.9M468.5,2121.3v-1.3M469.5,2121.3v-0.6M470.5,2121.3v-1.2M471.5,2121.3v-0.6M472.5,2121.3v-1.1M473.5,2121.3v-1.2M474.5,2121.3v-0.6M475.5,2121.3v-1.4M476.5,2121.3v-1.2M477.5,2121.3v-1.5M478.5,2121.3v-0.8M479.5,2121.3v-1.0M480.5,2121.3v-0.7M481.5,2121.3v-0.6M482.5,2121.3v-1.0M483.5,2121.3v-1.1M484.5,2121.3v-1.1M485.5,2121.3v-0.7M486.5,2121.3v-0.6M487.5,2121.3v-1.0M488.5,2121.3v-0.7M489.5,2121.3v-1.0M490.5,2121.3v-0.8M491.5,2121.3v-0.5M492.5,2121.3v-0.8M493.5,2121.3v-0.4M494.5,2121.3v-0.4M495.5,2121.3v-0.9M496.5,2121.3v-0.6M497.5,2121.3v-1.1M498.5,2121.3v-1.0M499.5,2121.3v-1.1M500.5,2121.3v-0.8M501.5,2121.3v-0.7M502.5,2121.3v-0.4M503.5,2121.3v-0.6M504.5,2121.3v-0.5M505.5,2121.3v-0.8M506.5,2121.3v-0.7M507.5,2121.3v-0.7M508.5,2121.3v-1.1M509.5,2121.3v-0.8M510.5,2121.3v-0.6M511.5,2121.3v-0.5M512.5,2121.3v-1.0M513.5,2121.3v-0.4M514.5,2121.3v-1.0M515.5,2121.3v-0.5M516.5,2121.3v-0.8M517.5,2121.3v-0.5M518.5,2121.3v-0.7M519.5,2121.3v-0.6M520.5,2121.3v-0.5M521.5,2121.3v-0.8M522.5,2121.3v-0.6M523.5,2121.3v-0.6M524.5,2121.3v-0.6M525.5,2121.3v-0.7M526.5,2121.3v-0.8M527.5,2121.3v-1.1M528.5,2121.3v-0.8M529.5,2121.3v-1.0M530.5,2121.3v-1.1M531.5,2121.3v-0.6M532.5,2121.3v-1.1M533.5,2121.3v-0.5M534.5,2121.3v-0.9M535.5,2121.3v-0.9M536.5,2121.3v-0.7M537.5,2121.3v-0.4M538.5,2121.3v-0.6M539.5,2121.3v-0.7M540.5,2121.3v-0.6M541.5,2121.3v-1.1M542.5,2121.3v-1.1M543.5,2121.3v-0.6M544.5,2121.3v-0.8M545.5,2121.3v-0.6M546.5,2121.3v-0.6M547.5,2121.3v-0.4M548.5,2121.3v-1.1M549.5,2121.3v-0.5M550.5,2121.3v-1.1M551.5,2121.3v-1.0M552.5,2121.3v-0.7M553.5,2121.3v-1.0M554.5,2121.3v-1.2M555.5,2121.3v-0.5M556.5,2121.3v-0.8M557.5,2121.3v-0.7M558.5,2121.3v-0.8M559.5,2121.3v-0.7M560.5,2121.3v-0.6M561.5,2121.3v-0.6M562.5,2121.3v-0.5M563.5,2121.3v-0.3M564.5,2121.3v-0.4M565.5,2121.3v-0.2M566.5,2121.3v-0.4M567.5,2121.3v-0.3M568.5,2121.3v-0.5M569.5,2121.3v-0.3M570.5,2121.3v-0.3M571.5,2121.3v-0.3M572.5,2121.3v-0.3M573.5,2121.3v-0.3M574.5,2121.3v-0.5M575.5,2121.3v-0.5M576.5,2121.3v-0.3M577.5,2121.3v-0.6M578.5,2121.3v-0.5M579.5,2121.3v-0.6M580.5,2121.3v-0.3M581.5,2121.3v-0.5M582.5,2121.3v-0.5M583.5,2121.3v-0.5M584.5,2121.3v-0.3M585.5,2121.3v-0.5M586.5,2121.3v-0.6M587.5,2121.3v-0.5M588.5,2121.3v-0.5M589.5,2121.3v-0.3M590.5,2121.3v-0.4M591.5,2121.3v-0.6M592.5,2121.3v-0.5M593.5,2121.3v-0.5M594.5,2121.3v-0.4M595.5,2121.3v-0.6M596.5,2121.3v-0.3M597.5,2121.3v-0.3M598.5,2121.3v-0.3M599.5,2121.3v-0.3M600.5,2121.3v-0.3M601.5,2121.3v-0.5M602.5,2121.3v-0.6M603.5,2121.3v-0.5M604.5,2121.3v-0.4M605.5,2121.3v-0.4M606.5,2121.3v-0.5M607.5,2121.3v-0.3M608.5,2121.3v-0.3M609.5,2121.3v-0.4M610.5,2121.3v-0.2M611.5,2121.3v-0.6M612.5,2121.3v-0.5M613.5,2121.3v-0.2M614.5,2121.3v-0.2M615.5,2121.3v-0.6M616.5,2121.3v-0.3M617.5,2121.3v-0.6M618.5,2121.3v-0.3M619.5,2121.3v-0.5M620.5,2121.3v-0.5M621.5,2121.3v-0.4M622.5,2121.3v-0.4M623.5,2121.3v-0.4M624.5,2121.3v-0.4M625.5,2121.3v-0.5M626.5,2121.3v-0.3M627.5,2121.3v-0.3M628.5,2121.3v-0.6M629.5,2121.3v-0.2M630.5,2121.3v-0.5M631.5,2121.3v-0.5M632.5,2121.3v-0.5M633.5,2121.3v-0.3M634.5,2121.3v-0.2M635.5,2121.3v-0.2M636.5,2121.3v-0.2M637.5,2121.3v-0.2M638.5,2121.3v-0.4M639.5,2121.3v-0.3M640.5,2121.3v-0.5M641.5,2121.3v-0.4M642.5,2121.3v-0.6M643.5,2121.3v-0.4M644.5,2121.3v-0.4M645.5,2121.3v-0.3M646.5,2121.3v-0.6M647.5,2121.3v-0.5M648.5,2121.3v-0.4M649.5,2121.3v-0.5M650.5,2121.3v-0.4M651.5,2121.3v-0.4M652.5,2121.3v-0.4M653.5,2121.3v-0.5M654.5,2121.3v-0.4M655.5,2121.3v-0.6M656.5,2121.3v-0.5M657.5,2121.3v-0.5M658.5,2121.3v-0.4M659.5,2121.3v-0.3M660.5,2121.3v-0.4M661.5,2121.3v-0.5M662.5,2121.3v-0.6M663.5,2121.3v-0.5M664.5,2121.3v-0.6M665.5,2121.3v-0.3M666.5,2121.3v-0.3M667.5,2121.3v-0.2M668.5,2121.3v-0.4M669.5,2121.3v-0.3M670.5,2121.3v-0.6M671.5,2121.3v-0.5M672.5,2121.3v-0.6M673.5,2121.3v-0.3M674.5,2121.3v-0.2M675.5,2121.3v-0.5M676.5,2121.3v-0.2M677.5,2121.3v-0.4M678.5,2121.3v-0.2M679.5,2121.3v-0.4M680.5,2121.3v-0.6M681.5,2121.3v-0.4M682.5,2121.3v-0.4M683.5,2121.3v-0.5M684.5,2121.3v-0.6M685.5,2121.3v-0.3M686.5,2121.3v-0.5M687.5,2121.3v-0.3M688.5,2121.3v-0.4M689.5,2121.3v-0.2M690.5,2121.3v-0.3M691.5,2121.3v-0.4M692.5,2121.3v-0.3M693.5,2121.3v-0.3M694.5,2121.3v-0.3M695.5,2121.3v-0.3M696.5,2121.3v-0.3M697.5,2121.3v-0.3M698.5,2121.3v-0.5M699.5,2121.3v-0.6M700.5,2121.3v-0.2M701.5,2121.3v-0.1M702.5,2121.3v-0.2M703.5,2121.3v-0.1M704.5,2121.3v-0.1M705.5,2121.3v-0.1M706.5,2121.3v-0.2M707.5,2121.3v-0.1M708.5,2121.3v-0.1M709.5,2121.3v-0.2M710.5,2121.3v-0.2M711.5,2121.3v-0.1M712.5,2121.3v-0.1M713.5,2121.3v-0.1M714.5,2121.3v-0.2M715.5,2121.3v-0.1M716.5,2121.3v-0.2M717.5,2121.3v-0.2M718.5,2121.3v-0.2M719.5,2121.3v-0.2M720.5,2121.3v-0.2M721.5,2121.3v-0.1M722.5,2121.3v-0.1M723.5,2121.3v-0.1M724.5,2121.3v-0.1M725.5,2121.3v-0.1M726.5,2121.3v-0.2M727.5,2121.3v-0.1M728.5,2121.3v-0.2M729.5,2121.3v-0.1M730.5,2121.3v-0.2M731.5,2121.3v-0.1M732.5,2121.3v-0.1M733.5,2121.3v-0.2M734.5,2121.3v-0.1M735.5,2121.3v-0.2M736.5,2121.3v-0.1M737.5,2121.3v-0.1M738.5,2121.3v-0.1M739.5,2121.3v-0.1M740.5,2121.3v-0.2M741.5,2121.3v-0.2M742.5,2121.3v-0.1M743.5,2121.3v-0.1M744.5,2121.3v-0.1M745.5,2121.3v-0.2M746.5,2121.3v-0.1M747.5,2121.3v-0.1M748.5,2121.3v-0.2M749.5,2121.3v-0.1M750.5,2121.3v-0.1M751.5,2121.3v-0.1M752.5,2121.3v-0.1M753.5,2121.3v-0.2M754.5,2121.3v-0.1M755.5,2121.3v-0.2M756.5,2121.3v-0.2M757.5,2121.3v-0.1M758.5,2121.3v-0.2M759.5,2121.3v-0.1M760.5,2121.3v-0.1M761.5,2121.3v-0.2M762.5,2121.3v-0.2M763.5,2121.3v-0.1M764.5,2121.3v-0.1M765.5,2121.3v-0.1M766.5,2121.3v-0.2M767.5,2121.3v-0.2M768.5,2121.3v-0.1M769.5,2121.3v-0.2M770.5,2121.3v-0.1M771.5,2121.3v-0.2M772.5,2121.3v-0.2M773.5,2121.3v-0.2M774.5,2121.3v-0.2M775.5,2121.3v-0.2M776.5,2121.3v-0.2M777.5,2121.3v-0.1M778.5,2121.3v-0.2M779.5,2121.3v-0.1M780.5,2121.3v-0.1M781.5,2121.3v-0.1M782.5,2121.3v-0.1M783.5,2121.3v-0.1M784.5,2121.3v-0.2M785.5,2121.3v-0.2M786.5,2121.3v-0.1M787.5,2121.3v-0.1M788.5,2121.3v-0.1M789.5,2121.3v-0.1M790.5,2121.3v-0.1M791.5,2121.3v-0.1M792.5,2121.3v-0.1M793.5,2121.3v-0.1M794.5,2121.3v-0.1M795.5,2121.3v-0.2M796.5,2121.3v-0.1M797.5,2121.3v-0.2M798.5,2121.3v-0.1M799.5,2121.3v-0.2M800.5,2121.3v-0.1M801.5,2121.3v-0.2M802.5,2121.3v-0.2M803.5,2121.3v-0.2M804.5,2121.3v-0.2M805.5,2121.3v-0.2M806.5,2121.3v-0.1M807.5,2121.3v-0.2M808.5,2121.3v-0.1M809.5,2121.3v-0.2M810.5,2121.3v-0.2M811.5,2121.3v-0.1M812.5,2121.3v-0.2M813.5,2121.3v-0.1M814.5,2121.3v-0.2M815.5,2121.3v-0.1M816.5,2121.3v-0.1M817.5,2121.3v-0.2M818.5,2121.3v-0.1M819.5,2121.3v-0.2M820.5,2121.3v-0.1M821.5,2121.3v-0.1M822.5,2121.3v-0.2M823.5,2121.3v-0.2M824.5,2121.3v-0.1M825.5,2121.3v-0.1M826.5,2121.3v-0.1M827.5,2121.3v-0.1M828.5,2121.3v-0.2M829.5,2121.3v-0.1M830.5,2121.3v-0.1M831.5,2121.3v-0.2M832.5,2121.3v-0.2M833.5,2121.3v-0.1M834.5,2121.3v-0.2M835.5,2121.3v-0.1M836.5,2121.3v-0.1M837.5,2121.3v-0.2M838.5,2121.3v-0.1M839.5,2121.3v-0.2M840.5,2121.3v-0.2M841.5,2121.3v-0.2M842.5,2121.3v-0.1M843.5,2121.3v-0.2M844.5,2121.3v-0.2M845.5,2121.3v-0.2M846.5,2121.3v-0.2M847.5,2121.3v-0.2M848.5,2121.3v-0.1M849.5,2121.3v-0.2M850.5,2121.3v-0.1M851.5,2121.3v-0.2M852.5,2121.3v-0.2M853.5,2121.3v-0.1M854.5,2121.3v-0.1M855.5,2121.3v-0.2M856.5,2121.3v-0.1M857.5,2121.3v-0.2M858.5,2121.3v-0.2M859.5,2121.3v-0.2M860.5,2121.3v-0.1M861.5,2121.3v-0.2M862.5,2121.3v-0.2M863.5,2121.3v-0.2M864.5,2121.3v-0.1M865.5,2121.3v-0.1M866.5,2121.3v-0.2M867.5,2121.3v-0.2M868.5,2121.3v-0.2M869.5,2121.3v-0.1M870.5,2121.3v-0.1M871.5,2121.3v-0.1M872.5,2121.3v-0.2M873.5,2121.3v-0.1M874.5,2121.3v-0.1M875.5,2121.3v-0.2M876.5,2121.3v-0.2M877.5,2121.3v-0.1M878.5,2121.3v-0.1M879.5,2121.3v-0.2M880.5,2121.3v-0.2M881.5,2121.3v-0.1M882.5,2121.3v-0.2M883.5,2121.3v-0.1M884.5,2121.3v-0.1M885.5,2121.3v-0.1M886.5,2121.3v-0.2M887.5,2121.3v-0.1M888.5,2121.3v-0.2M889.5,2121.3v-0.2M890.5,2121.3v-0.2M891.5,2121.3v-0.1M892.5,2121.3v-0.2M893.5,2121.3v-0.2M894.5,2121.3v-0.1M895.5,2121.3v-0.2M896.5,2121.3v-0.1M897.5,2121.3v-0.2M898.5,2121.3v-0.2M899.5,2121.3v-0.1M900.5,2121.3v-0.2M901.5,2121.3v-0.1M902.5,2121.3v-0.1M903.5,2121.3v-0.1M904.5,2121.3v-0.1M905.5,2121.3v-0.1M906.5,2121.3v-0.1M907.5,2121.3v-0.2M908.5,2121.3v-0.1M909.5,2121.3v-0.1M910.5,2121.3v-0.1M911.5,2121.3v-0.2M912.5,2121.3v-0.2M913.5,2121.3v-0.2M914.5,2121.3v-0.1M915.5,2121.3v-0.1M916.5,2121.3v-0.2M917.5,2121.3v-0.2M918.5,2121.3v-0.2M919.5,2121.3v-0.1M920.5,2121.3v-0.2M921.5,2121.3v-0.1M922.5,2121.3v-0.2M923.5,2121.3v-0.1M924.5,2121.3v-0.2M925.5,2121.3v-0.2M926.5,2121.3v-0.1M927.5,2121.3v-0.2M928.5,2121.3v-0.2M929.5,2121.3v-0.2M930.5,2121.3v-0.1M931.5,2121.3v-0.2M932.5,2121.3v-0.1M933.5,2121.3v-0.1M934.5,2121.3v-0.2M935.5,2121.3v-0.1M936.5,2121.3v-0.2M937.5,2121.3v-0.2M938.5,2121.3v-0.1M939.5,2121.3v-0.1M940.5,2121.3v-0.1M941.5,2121.3v-0.1M942.5,2121.3v-0.2M943.5,2121.3v-0.2M944.5,2121.3v-0.1M945.5,2121.3v-0.1M946.5,2121.3v-0.2M947.5,2121.3v-0.2M948.5,2121.3v-0.1M949.5,2121.3v-0.1M950.5,2121.3v-0.2M951.5,2121.3v-0.2M952.5,2121.3v-0.1M953.5,2121.3v-0.2M954.5,2121.3v-0.1M955.5,2121.3v-0.1M956.5,2121.3v-0.1M957.5,2121.3v-0.2M958.5,2121.3v-0.2M959.5,2121.3v-0.1M960.5,2121.3v-0.1M961.5,2121.3v-0.2M962.5,2121.3v-0.1M963.5,2121.3v-0.1M964.5,2121.3v-0.2M965.5,2121.3v-0.1M966.5,2121.3v-0.1M967.5,2121.3v-0.2M968.5,2121.3v-0.2M969.5,2121.3v-0.2M970.5,2121.3v-0.2M971.5,2121.3v-0.1M972.5,2121.3v-0.2M973.5,2121.3v-0.2M974.5,2121.3v-0.2M975.5,2121.3v-0.1M976.5,2121.3v-0.1M977.5,2121.3v-0.1M978.5,2121.3v-0.2M979.5,2121.3v-0.1M980.5,2121.3v-0.1M981.5,2121.3v-0.2M982.5,2121.3v-0.1M983.5,2121.3v-0.1" stroke="#3a3a3a" stroke-width="1" fill="none"/><path d="M87.5,2121.3v-2.4M121.5,2121.3v-1.2M133.5,2121.3v-1.1M134.5,2121.3v-2.2M145.5,2121.3v-7.3M151.5,2121.3v-3.1M157.5,2121.3v-12.4M179.5,2121.3v-3.6M180.5,2121.3v-4.6M183.5,2121.3v-8.6M189.5,2121.3v-4.4M193.5,2121.3v-4.7M211.5,2121.3v-5.6M216.5,2121.3v-2.0M218.5,2121.3v-1.7M219.5,2121.3v-1.7M220.5,2121.3v-2.8M221.5,2121.3v-4.1M226.5,2121.3v-0.9M232.5,2121.3v-6.7M237.5,2121.3v-3.2M244.5,2121.3v-3.9M258.5,2121.3v-2.4M272.5,2121.3v-1.7M274.5,2121.3v-1.6M292.5,2121.3v-2.2M294.5,2121.3v-3.8M296.5,2121.3v-11.0M306.5,2121.3v-1.1M310.5,2121.3v-2.7M311.5,2121.3v-0.8M315.5,2121.3v-1.1M342.5,2121.3v-0.9M352.5,2121.3v-2.1M356.5,2121.3v-9.5M357.5,2121.3v-2.2M362.5,2121.3v-0.9M377.5,2121.3v-9.3M382.5,2121.3v-1.0M390.5,2121.3v-5.5M396.5,2121.3v-1.9M399.5,2121.3v-3.7M422.5,2121.3v-1.3M424.5,2121.3v-2.6M435.5,2121.3v-5.8M453.5,2121.3v-3.6M461.5,2121.3v-1.0M468.5,2121.3v-2.0M497.5,2121.3v-0.7M502.5,2121.3v-4.4M576.5,2121.3v-1.3M606.5,2121.3v-1.8M641.5,2121.3v-1.1M644.5,2121.3v-2.6M649.5,2121.3v-3.3M665.5,2121.3v-3.7M690.5,2121.3v-0.9M713.5,2121.3v-1.7M821.5,2121.3v-2.7M905.5,2121.3v-1.2M947.5,2121.3v-3.0" stroke="#666" stroke-width="1" fill="none"/><path d="M88.5,2121.3v-2.1M119.5,2121.3v-8.0M159.5,2121.3v-3.4M169.5,2121.3v-9.5M177.5,2121.3v-6.6M214.5,2121.3v-2.5M224.5,2121.3v-1.2M229.5,2121.3v-9.9M230.5,2121.3v-2.9M242.5,2121.3v-3.0M245.5,2121.3v-3.1M262.5,2121.3v-11.0M267.5,2121.3v-2.2M269.5,2121.3v-5.4M286.5,2121.3v-5.4M298.5,2121.3v-3.7M299.5,2121.3v-2.3M338.5,2121.3v-1.1M347.5,2121.3v-3.0M350.5,2121.3v-0.8M364.5,2121.3v-0.9M368.5,2121.3v-1.3M371.5,2121.3v-5.6M376.5,2121.3v-2.8M388.5,2121.3v-6.3M393.5,2121.3v-5.2M395.5,2121.3v-1.9M409.5,2121.3v-1.0M414.5,2121.3v-2.9M425.5,2121.3v-2.6M430.5,2121.3v-0.8M440.5,2121.3v-3.4M454.5,2121.3v-1.9M470.5,2121.3v-1.5M485.5,2121.3v-4.1M511.5,2121.3v-1.4M535.5,2121.3v-2.6M602.5,2121.3v-1.2M633.5,2121.3v-0.8M636.5,2121.3v-4.0M675.5,2121.3v-1.2M773.5,2121.3v-1.1M942.5,2121.3v-1.0M956.5,2121.3v-0.8" stroke="#222" stroke-width="1" fill="none"/><path d="M90.5,2121.3v-8.0M104.5,2121.3v-6.6M108.5,2121.3v-0.6M137.5,2121.3v-1.4M139.5,2121.3v-1.7M141.5,2121.3v-13.5M147.5,2121.3v-12.2M158.5,2121.3v-2.0M168.5,2121.3v-5.7M172.5,2121.3v-1.7M181.5,2121.3v-15.0M191.5,2121.3v-6.3M202.5,2121.3v-2.0M203.5,2121.3v-9.1M209.5,2121.3v-4.4M217.5,2121.3v-3.5M227.5,2121.3v-2.6M235.5,2121.3v-9.0M253.5,2121.3v-3.8M263.5,2121.3v-6.4M276.5,2121.3v-1.7M280.5,2121.3v-2.0M288.5,2121.3v-3.5M300.5,2121.3v-1.2M307.5,2121.3v-4.6M308.5,2121.3v-5.2M329.5,2121.3v-1.1M334.5,2121.3v-1.5M349.5,2121.3v-3.2M369.5,2121.3v-1.9M394.5,2121.3v-1.1M400.5,2121.3v-1.7M404.5,2121.3v-4.7M417.5,2121.3v-2.5M436.5,2121.3v-2.8M458.5,2121.3v-0.6M475.5,2121.3v-1.3M479.5,2121.3v-4.5M495.5,2121.3v-1.1M500.5,2121.3v-1.3M505.5,2121.3v-1.6M547.5,2121.3v-2.0M588.5,2121.3v-0.7M670.5,2121.3v-1.5M676.5,2121.3v-0.9M692.5,2121.3v-2.1M715.5,2121.3v-1.8M743.5,2121.3v-0.9M830.5,2121.3v-2.7M832.5,2121.3v-0.8M929.5,2121.3v-1.4M931.5,2121.3v-0.8M958.5,2121.3v-1.3" stroke="#444" stroke-width="1" fill="none"/><path d="M92.5,2121.3v-2.5M96.5,2121.3v-1.5M102.5,2121.3v-1.5M109.5,2121.3v-1.3M142.5,2121.3v-16.0M148.5,2121.3v-4.1M154.5,2121.3v-16.0M161.5,2121.3v-2.8M170.5,2121.3v-16.0M184.5,2121.3v-3.1M188.5,2121.3v-8.9M192.5,2121.3v-15.5M197.5,2121.3v-3.2M198.5,2121.3v-0.7M204.5,2121.3v-3.3M205.5,2121.3v-8.2M207.5,2121.3v-5.4M222.5,2121.3v-3.9M234.5,2121.3v-2.1M238.5,2121.3v-2.4M250.5,2121.3v-5.6M266.5,2121.3v-1.0M289.5,2121.3v-6.7M290.5,2121.3v-4.4M302.5,2121.3v-1.7M304.5,2121.3v-5.6M312.5,2121.3v-2.1M314.5,2121.3v-4.6M317.5,2121.3v-1.7M319.5,2121.3v-8.7M320.5,2121.3v-2.7M341.5,2121.3v-4.6M351.5,2121.3v-2.6M353.5,2121.3v-1.0M358.5,2121.3v-2.1M363.5,2121.3v-1.3M374.5,2121.3v-5.6M379.5,2121.3v-4.0M386.5,2121.3v-1.1M398.5,2121.3v-2.8M403.5,2121.3v-2.3M410.5,2121.3v-9.6M415.5,2121.3v-10.0M445.5,2121.3v-5.0M447.5,2121.3v-2.7M456.5,2121.3v-7.0M463.5,2121.3v-1.3M482.5,2121.3v-2.2M552.5,2121.3v-0.8M583.5,2121.3v-0.9M594.5,2121.3v-0.9M671.5,2121.3v-1.6M687.5,2121.3v-1.9M694.5,2121.3v-0.8M718.5,2121.3v-0.9M870.5,2121.3v-3.0" stroke="#111" stroke-width="1" fill="none"/><path d="M100.5,2121.3v-1.3M120.5,2121.3v-3.0M130.5,2121.3v-0.7M143.5,2121.3v-0.9M146.5,2121.3v-16.0M150.5,2121.3v-1.2M155.5,2121.3v-13.3M160.5,2121.3v-5.0M163.5,2121.3v-3.6M167.5,2121.3v-4.8M171.5,2121.3v-5.9M174.5,2121.3v-2.2M185.5,2121.3v-8.4M187.5,2121.3v-4.6M206.5,2121.3v-0.7M213.5,2121.3v-7.4M228.5,2121.3v-1.8M231.5,2121.3v-8.5M236.5,2121.3v-4.5M240.5,2121.3v-11.0M246.5,2121.3v-1.6M255.5,2121.3v-2.9M256.5,2121.3v-5.0M260.5,2121.3v-11.0M273.5,2121.3v-1.3M277.5,2121.3v-1.5M287.5,2121.3v-1.0M291.5,2121.3v-5.7M295.5,2121.3v-6.3M297.5,2121.3v-2.2M305.5,2121.3v-1.0M316.5,2121.3v-4.3M323.5,2121.3v-1.3M326.5,2121.3v-7.6M335.5,2121.3v-1.1M372.5,2121.3v-0.7M375.5,2121.3v-5.3M380.5,2121.3v-2.3M384.5,2121.3v-3.2M405.5,2121.3v-5.1M419.5,2121.3v-2.5M423.5,2121.3v-4.2M427.5,2121.3v-4.0M431.5,2121.3v-2.9M432.5,2121.3v-2.8M506.5,2121.3v-2.8M510.5,2121.3v-1.9M529.5,2121.3v-4.1M530.5,2121.3v-1.5M533.5,2121.3v-2.9M534.5,2121.3v-1.3M545.5,2121.3v-2.3M575.5,2121.3v-2.6M601.5,2121.3v-0.7M624.5,2121.3v-0.8M656.5,2121.3v-1.5M702.5,2121.3v-1.3M851.5,2121.3v-1.5M959.5,2121.3v-0.6" stroke="#333" stroke-width="1" fill="none"/><path d="M118.5,2121.3v-1.1M126.5,2121.3v-6.6M127.5,2121.3v-4.0M138.5,2121.3v-1.4M140.5,2121.3v-6.5M149.5,2121.3v-5.0M152.5,2121.3v-3.7M153.5,2121.3v-0.8M156.5,2121.3v-1.4M164.5,2121.3v-3.0M165.5,2121.3v-9.7M166.5,2121.3v-0.8M173.5,2121.3v-7.6M186.5,2121.3v-0.7M190.5,2121.3v-1.4M194.5,2121.3v-4.2M195.5,2121.3v-16.0M196.5,2121.3v-16.0M199.5,2121.3v-8.7M200.5,2121.3v-1.5M208.5,2121.3v-10.1M210.5,2121.3v-9.3M212.5,2121.3v-4.5M223.5,2121.3v-4.2M233.5,2121.3v-1.7M239.5,2121.3v-5.7M241.5,2121.3v-3.6M247.5,2121.3v-3.1M254.5,2121.3v-3.2M268.5,2121.3v-1.7M271.5,2121.3v-8.4M278.5,2121.3v-4.5M282.5,2121.3v-6.4M285.5,2121.3v-1.2M301.5,2121.3v-0.7M321.5,2121.3v-2.0M325.5,2121.3v-9.7M337.5,2121.3v-4.9M373.5,2121.3v-2.5M402.5,2121.3v-3.3M412.5,2121.3v-3.1M413.5,2121.3v-5.0M418.5,2121.3v-2.0M437.5,2121.3v-2.1M438.5,2121.3v-2.4M473.5,2121.3v-3.3M474.5,2121.3v-1.2M481.5,2121.3v-6.0M487.5,2121.3v-1.0M494.5,2121.3v-5.9M504.5,2121.3v-0.9M539.5,2121.3v-0.7M543.5,2121.3v-0.9M558.5,2121.3v-3.1M600.5,2121.3v-0.9M616.5,2121.3v-1.3M637.5,2121.3v-0.7M653.5,2121.3v-4.0M688.5,2121.3v-4.0M854.5,2121.3v-2.5M883.5,2121.3v-3.0" stroke="#555" stroke-width="1" fill="none"/><text class="l" x="140.3" y="1815.2" text-anchor="middle">116.3475</text><text class="l" x="141.0" y="1942.6">116.5362</text><polyline points="140.5,1952.8 149.0,1945.7" stroke="#555" stroke-width="1" fill="none"/><text class="l" x="160.9" y="2057.0">139.9970</text><polyline points="160.7,2068.8 167.8,2060.1" stroke="#555" stroke-width="1" fill="none"/><text class="l" x="215.5" y="2040.4" text-anchor="middle">203.3630</text><text class="l" x="225.0" y="2084.4">205.6290</text><polyline points="216.6,2088.0 224.1,2084.4" stroke="#555" stroke-width="1" fill="none"/><text class="l" x="279.1" y="2067.1" text-anchor="middle">277.7228</text><text class="l" x="354.7" y="2007.2" text-anchor="middle">365.6696</text><text class="l" x="367.8" y="2082.2">381.5500</text><polyline points="368.1,2093.0 375.6,2084.8" stroke="#555" stroke-width="1" fill="none"/><text class="l" x="474.1" y="1817.6" text-anchor="middle">505.4450</text><text class="l" x="474.0" y="2049.6">505.8231</text><polyline points="474.4,2059.5 482.3,2052.7" stroke="#555" stroke-width="1" fill="none"/><path d="M469.00,1866.70L459.56,1864.08L465.26,1857.65z" fill="#000" opacity="0.3" transform="translate(1.6,2.0)" filter="url(#sh)"/><path d="M428.8,1831.1L463.2,1861.5" stroke="#000" opacity="0.16" stroke-width="2.2" fill="none" transform="translate(1.5,1.9)" filter="url(#sh)"/><path d="M428.8,1831.1L463.2,1861.5" stroke="#c8000a" stroke-width="2.0" fill="none"/><path d="M469.00,1866.70L459.56,1864.08L465.26,1857.65z" fill="#c8000a"/></g>
<g><text class="L" x="3.9" y="2177.0">G</text><text class="h" x="51.2" y="2157.4">CT 128 (4.855)</text><text class="h" x="1015.1" y="2157.3" text-anchor="end">2: Scan ES-</text><text class="h" x="1018.1" y="2173.0" text-anchor="end">1.63e5</text><path d="M83.60,2175.40V2478.40M78.10,2175.40H83.60M80.60,2209.73H83.60M80.60,2244.06H83.60M80.60,2278.39H83.60M80.60,2312.72H83.60M78.10,2347.05H83.60M80.60,2381.38H83.60M80.60,2415.71H83.60M80.60,2450.04H83.60" stroke="#2a2a2a" stroke-width="1.35" fill="none"/><path d="M83.00,2478.40H985.30" stroke="#111" stroke-width="1.7" fill="none"/><path d="M83.53,2478.40v6.3M92.13,2478.40v3.6M100.72,2478.40v3.6M109.31,2478.40v3.6M117.91,2478.40v3.6M126.50,2478.40v6.3M135.09,2478.40v3.6M143.69,2478.40v3.6M152.28,2478.40v3.6M160.87,2478.40v3.6M169.47,2478.40v6.3M178.06,2478.40v3.6M186.65,2478.40v3.6M195.24,2478.40v3.6M203.84,2478.40v3.6M212.43,2478.40v6.3M221.02,2478.40v3.6M229.62,2478.40v3.6M238.21,2478.40v3.6M246.80,2478.40v3.6M255.39,2478.40v6.3M263.99,2478.40v3.6M272.58,2478.40v3.6M281.17,2478.40v3.6M289.77,2478.40v3.6M298.36,2478.40v6.3M306.95,2478.40v3.6M315.55,2478.40v3.6M324.14,2478.40v3.6M332.73,2478.40v3.6M341.32,2478.40v6.3M349.92,2478.40v3.6M358.51,2478.40v3.6M367.10,2478.40v3.6M375.70,2478.40v3.6M384.29,2478.40v6.3M392.88,2478.40v3.6M401.48,2478.40v3.6M410.07,2478.40v3.6M418.66,2478.40v3.6M427.25,2478.40v6.3M435.85,2478.40v3.6M444.44,2478.40v3.6M453.03,2478.40v3.6M461.63,2478.40v3.6M470.22,2478.40v6.3M478.81,2478.40v3.6M487.41,2478.40v3.6M496.00,2478.40v3.6M504.59,2478.40v3.6M513.18,2478.40v6.3M521.78,2478.40v3.6M530.37,2478.40v3.6M538.96,2478.40v3.6M547.56,2478.40v3.6M556.15,2478.40v6.3M564.74,2478.40v3.6M573.34,2478.40v3.6M581.93,2478.40v3.6M590.52,2478.40v3.6M599.12,2478.40v6.3M607.71,2478.40v3.6M616.30,2478.40v3.6M624.89,2478.40v3.6M633.49,2478.40v3.6M642.08,2478.40v6.3M650.67,2478.40v3.6M659.27,2478.40v3.6M667.86,2478.40v3.6M676.45,2478.40v3.6M685.04,2478.40v6.3M693.64,2478.40v3.6M702.23,2478.40v3.6M710.82,2478.40v3.6M719.42,2478.40v3.6M728.01,2478.40v6.3M736.60,2478.40v3.6M745.20,2478.40v3.6M753.79,2478.40v3.6M762.38,2478.40v3.6M770.97,2478.40v6.3M779.57,2478.40v3.6M788.16,2478.40v3.6M796.75,2478.40v3.6M805.35,2478.40v3.6M813.94,2478.40v6.3M822.53,2478.40v3.6M831.13,2478.40v3.6M839.72,2478.40v3.6M848.31,2478.40v3.6M856.90,2478.40v6.3M865.50,2478.40v3.6M874.09,2478.40v3.6M882.68,2478.40v3.6M891.28,2478.40v3.6M899.87,2478.40v6.3M908.46,2478.40v3.6M917.06,2478.40v3.6M925.65,2478.40v3.6M934.24,2478.40v3.6M942.83,2478.40v6.3M951.43,2478.40v3.6M960.02,2478.40v3.6M968.61,2478.40v3.6M977.21,2478.40v3.6" stroke="#333" stroke-width="1.2" fill="none"/><text class="h" x="126.8" y="2497.0" text-anchor="middle">100</text><text class="h" x="212.7" y="2497.0" text-anchor="middle">200</text><text class="h" x="298.7" y="2497.0" text-anchor="middle">300</text><text class="h" x="384.6" y="2497.0" text-anchor="middle">400</text><text class="h" x="470.5" y="2497.0" text-anchor="middle">500</text><text class="h" x="556.4" y="2497.0" text-anchor="middle">600</text><text class="h" x="642.4" y="2497.0" text-anchor="middle">700</text><text class="h" x="728.3" y="2497.0" text-anchor="middle">800</text><text class="h" x="814.2" y="2497.0" text-anchor="middle">900</text><text class="h" x="900.2" y="2497.0" text-anchor="middle">1000</text><text class="h" x="986.1" y="2497.0" text-anchor="middle">1100</text><text class="h" x="991.3" y="2483.4">m/z</text><text class="h" x="77.6" y="2483.0" text-anchor="end">12</text><g transform="translate(73.30,2326.60)" stroke="#1e1e1e" stroke-width="1.1" fill="none"><ellipse cx="2.7" cy="-3.3" rx="2.2" ry="1.5"/><ellipse cx="-2.6" cy="3.2" rx="2.25" ry="1.6"/><path d="M-5.2,-2.95L5.0,2.45"/></g><path d="M236.20,2478.40V2457.50M275.40,2478.40V2399.80M285.80,2478.40V2270.90M323.90,2478.40V2210.20M324.50,2478.40V2411.20M355.60,2478.40V2445.50M397.60,2478.40V2426.70M472.10,2478.40V2303.90M502.30,2478.40V2427.90M537.90,2478.40V2345.00M556.60,2478.40V2459.70M611.40,2478.40V2343.10M657.70,2478.40V2263.40M776.30,2478.40V2379.30M872.90,2478.40V2477.00M966.10,2478.40V2460.00M254.90,2478.40V2465.50M269.40,2478.40V2466.60M271.80,2478.40V2460.80M277.60,2478.40V2464.40M287.70,2478.40V2474.10M296.30,2478.40V2470.50M316.80,2478.40V2314.00M317.20,2478.40V2409.50M344.40,2478.40V2476.30M348.00,2478.40V2459.00M351.50,2478.40V2473.00M353.20,2478.40V2453.20M396.10,2478.40V2437.50M410.70,2478.40V2462.30M416.50,2478.40V2470.90M421.40,2478.40V2457.00M431.00,2478.40V2471.70M497.60,2478.40V2467.60M500.90,2478.40V2456.90M503.70,2478.40V2461.60M510.50,2478.40V2473.10M517.40,2478.40V2471.20M522.90,2478.40V2457.50M549.70,2478.40V2475.30M595.00,2478.40V2472.60M598.80,2478.40V2472.00M603.20,2478.40V2473.10M623.20,2478.40V2470.40M623.70,2478.40V2469.30M636.70,2478.40V2471.20M637.20,2478.40V2471.70M669.40,2478.40V2271.50M955.00,2478.40V2470.10" stroke="#555" stroke-width="1.3" fill="none"/><path d="M324.40,2478.40V2411.20M317.00,2478.40V2409.50" stroke="#2a2a2a" stroke-width="1.6" fill="none"/><text class="l" x="236.2" y="2454.1" text-anchor="middle">227.5360</text><text class="l" x="275.9" y="2389.4" text-anchor="end">273.4401</text><polyline points="275.4,2399.8 267.9,2392.2" stroke="#555" stroke-width="1" fill="none"/><text class="l" x="285.8" y="2267.9" text-anchor="middle">285.5327</text><text class="l" x="323.9" y="2206.9" text-anchor="middle">329.8174</text><text class="l" x="324.1" y="2400.9">330.6994</text><polyline points="324.5,2411.2 332.1,2404.1" stroke="#555" stroke-width="1" fill="none"/><text class="l" x="355.6" y="2441.8" text-anchor="middle">366.6147</text><text class="l" x="397.6" y="2423.5" text-anchor="middle">415.9618</text><text class="l" x="472.1" y="2300.6" text-anchor="middle">503.3378</text><text class="l" x="502.3" y="2424.6" text-anchor="middle">537.8244</text><text class="l" x="537.9" y="2341.7" text-anchor="middle">578.8110</text><text class="l" x="555.7" y="2448.7">601.0080</text><polyline points="556.6,2459.7 564.8,2451.2" stroke="#555" stroke-width="1" fill="none"/><text class="l" x="611.4" y="2339.5" text-anchor="middle">664.5117</text><text class="l" x="657.7" y="2260.2" text-anchor="middle">718.4943</text><text class="l" x="776.3" y="2375.6" text-anchor="middle">856.5348</text><text class="l" x="872.9" y="2474.2" text-anchor="middle">968.6393</text><text class="l" x="966.1" y="2457.4" text-anchor="middle">1077.6313</text><path d="M475.70,2324.50L481.06,2316.30L485.46,2323.69z" fill="#000" opacity="0.3" transform="translate(1.6,2.0)" filter="url(#sh)"/><path d="M525.0,2295.1L482.4,2320.5" stroke="#000" opacity="0.16" stroke-width="2.2" fill="none" transform="translate(1.5,1.9)" filter="url(#sh)"/><path d="M525.0,2295.1L482.4,2320.5" stroke="#c8000a" stroke-width="2.0" fill="none"/><path d="M475.70,2324.50L481.06,2316.30L485.46,2323.69z" fill="#c8000a"/></g>
</svg>
</body></html>
